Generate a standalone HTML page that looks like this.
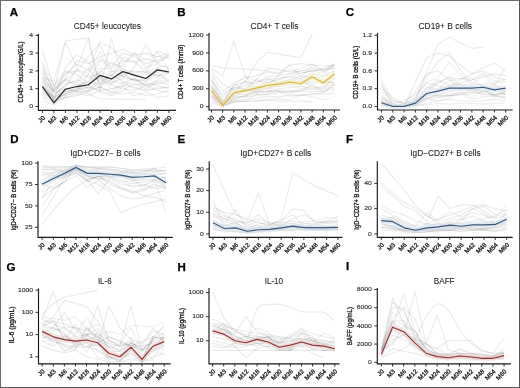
<!DOCTYPE html>
<html><head><meta charset="utf-8"><style>
html,body{margin:0;padding:0;background:#fff;}
body{width:520px;height:388px;overflow:hidden;position:relative;}
svg{position:absolute;left:0;top:0;filter:blur(0.4px);}
text{font-family:"Liberation Sans", sans-serif;}
.ty{font-size:5.9px;fill:#333;stroke:#333;stroke-width:0.15px;}
.tk{font-size:6.2px;fill:#111;stroke:#111;stroke-width:0.26px;}
.yl{font-size:7px;fill:#111;stroke:#111;stroke-width:0.28px;}
.ti{font-size:8.3px;fill:#1a1a1a;stroke:#1a1a1a;stroke-width:0.08px;}
.lt{font-size:11.5px;font-weight:bold;fill:#000;stroke:#000;stroke-width:0.25px;}
</style></head><body>
<svg width="520" height="388" viewBox="0 0 520 388">
<rect x="0" y="0" width="520" height="388" fill="#fff"/>
<polyline points="42.4,78.02 53.9,80.69 65.4,40.82 76.9,39.57 88.4,38.15 99.9,85.14 111.4,79.8 122.9,74.46 134.4,70.9 145.9,72.68 157.4,67.34 168.9,65.56" fill="none" stroke="#000" stroke-opacity="0.082" stroke-width="1.1" stroke-linejoin="round"/>
<polyline points="42.4,50.43 53.9,86.92 65.4,74.46 76.9,63.78 88.4,70.9 99.9,42.42 111.4,47.76 122.9,60.22 134.4,62 145.9,58.44 157.4,62 168.9,56.66" fill="none" stroke="#000" stroke-opacity="0.082" stroke-width="1.1" stroke-linejoin="round"/>
<polyline points="42.4,67.34 53.9,90.48 65.4,42.42 76.9,67.34 88.4,38.15 99.9,90.48 111.4,38.86 122.9,78.02 134.4,67.34 145.9,44.2 157.4,63.78 168.9,54.88" fill="none" stroke="#000" stroke-opacity="0.082" stroke-width="1.1" stroke-linejoin="round"/>
<polyline points="42.4,85.14 53.9,99.38 65.4,90.48 76.9,83.36 88.4,88.7 99.9,79.8 111.4,83.36 122.9,72.68 134.4,81.58 145.9,78.02 157.4,74.46 168.9,79.8" fill="none" stroke="#000" stroke-opacity="0.082" stroke-width="1.1" stroke-linejoin="round"/>
<polyline points="42.4,92.26 53.9,101.16 65.4,94.04 76.9,90.48 88.4,86.92 99.9,90.48 111.4,88.7 122.9,85.14 134.4,86.92 145.9,90.48 157.4,88.7 168.9,86.92" fill="none" stroke="#000" stroke-opacity="0.082" stroke-width="1.1" stroke-linejoin="round"/>
<polyline points="42.4,72.68 53.9,88.7 65.4,79.8 76.9,85.14 88.4,81.58 99.9,60.22 111.4,67.34 122.9,53.1 134.4,56.66 145.9,63.78 157.4,60.22 168.9,54.88" fill="none" stroke="#000" stroke-opacity="0.082" stroke-width="1.1" stroke-linejoin="round"/>
<polyline points="42.4,97.6 53.9,102.94 65.4,95.82 76.9,92.26 88.4,94.04 99.9,98.85 111.4,99.02 122.9,99.38 134.4,99.38 145.9,99.91" fill="none" stroke="#000" stroke-opacity="0.082" stroke-width="1.1" stroke-linejoin="round"/>
<polyline points="42.4,81.58 53.9,94.04 65.4,86.92 76.9,69.12 88.4,78.02 99.9,72.68 111.4,62 122.9,69.12 134.4,72.68 145.9,70.9 157.4,76.24 168.9,70.9" fill="none" stroke="#000" stroke-opacity="0.082" stroke-width="1.1" stroke-linejoin="round"/>
<polyline points="42.4,70.9 53.9,97.6 65.4,83.36 76.9,81.58 88.4,67.34 99.9,83.36 111.4,74.46 122.9,81.58 134.4,85.14 145.9,83.36 157.4,85.14 168.9,88.7" fill="none" stroke="#000" stroke-opacity="0.082" stroke-width="1.1" stroke-linejoin="round"/>
<polyline points="42.4,88.7 53.9,102.94 65.4,92.26 76.9,88.7 88.4,85.14 99.9,76.24 111.4,85.14 122.9,88.7 134.4,90.48 145.9,85.14 157.4,90.48 168.9,92.26" fill="none" stroke="#000" stroke-opacity="0.082" stroke-width="1.1" stroke-linejoin="round"/>
<polyline points="42.4,62 53.9,85.14 65.4,70.9 76.9,74.46 88.4,83.36 99.9,70.9 111.4,76.24 122.9,63.78 134.4,53.1 145.9,67.34 157.4,63.78 168.9,69.12" fill="none" stroke="#000" stroke-opacity="0.082" stroke-width="1.1" stroke-linejoin="round"/>
<polyline points="42.4,101.16 53.9,104.72 65.4,97.6 76.9,95.82 88.4,90.48 99.9,86.92 111.4,92.26 122.9,94.04 134.4,92.26 145.9,95.82 157.4,94.04 168.9,90.48" fill="none" stroke="#000" stroke-opacity="0.082" stroke-width="1.1" stroke-linejoin="round"/>
<polyline points="42.4,76.24 53.9,90.48 65.4,78.02 76.9,60.22 88.4,63.78 99.9,56.66 111.4,53.1 122.9,49.54 134.4,54.88 145.9,53.1 157.4,56.66 168.9,53.1" fill="none" stroke="#000" stroke-opacity="0.082" stroke-width="1.1" stroke-linejoin="round"/>
<polyline points="42.4,83.36 53.9,97.6 65.4,88.7 76.9,90.48 88.4,74.46 99.9,88.7 111.4,70.9 122.9,76.24 134.4,79.8 145.9,81.58 157.4,70.9 168.9,72.68" fill="none" stroke="#000" stroke-opacity="0.082" stroke-width="1.1" stroke-linejoin="round"/>
<polyline points="42.4,90.48 53.9,95.82 65.4,85.14 76.9,79.8 88.4,85.14 99.9,92.26 111.4,95.82 122.9,90.48 134.4,83.36 145.9,88.7 157.4,81.58 168.9,85.14" fill="none" stroke="#000" stroke-opacity="0.082" stroke-width="1.1" stroke-linejoin="round"/>
<polyline points="42.4,65.56 53.9,92.26 65.4,72.68 76.9,70.9 88.4,56.66 99.9,44.2 111.4,70.9 122.9,70.9 134.4,76.24 145.9,74.46 157.4,69.12 168.9,70.9" fill="none" stroke="#000" stroke-opacity="0.082" stroke-width="1.1" stroke-linejoin="round"/>
<polyline points="42.4,79.8 53.9,99.38 65.4,67.34 76.9,54.88 88.4,62 99.9,78.02 111.4,81.58 122.9,83.36 134.4,78.02 145.9,86.92 157.4,83.36 168.9,81.58" fill="none" stroke="#000" stroke-opacity="0.082" stroke-width="1.1" stroke-linejoin="round"/>
<polyline points="42.4,95.82 53.9,101.16 65.4,97.6 76.9,94.04 88.4,95.82 99.9,90.48 111.4,94.04 122.9,86.92 134.4,95.82 145.9,92.26 157.4,97.6 168.9,95.82" fill="none" stroke="#000" stroke-opacity="0.082" stroke-width="1.1" stroke-linejoin="round"/>
<polyline points="42.4,86.67 53.9,97.78 65.4,91.33 76.9,90.52 88.4,87.12 99.9,72.59 111.4,79.41 122.9,68.94 134.4,76.54 145.9,79.18 157.4,71.75 168.9,81.72" fill="none" stroke="#000" stroke-opacity="0.068" stroke-width="1.1" stroke-linejoin="round"/>
<polyline points="42.4,78.22 53.9,92.63 65.4,88.88 76.9,86.31 88.4,81.51 99.9,68.32 111.4,68.53 122.9,60.95 134.4,61.96 145.9,73.12 157.4,56 168.9,58.33" fill="none" stroke="#000" stroke-opacity="0.068" stroke-width="1.1" stroke-linejoin="round"/>
<polyline points="42.4,85.62 53.9,97.88 65.4,89.79 76.9,91.8 88.4,90.76 99.9,82.56 111.4,84.52 122.9,75.46 134.4,80.19 145.9,85.35 157.4,80.8 168.9,80.65" fill="none" stroke="#000" stroke-opacity="0.068" stroke-width="1.1" stroke-linejoin="round"/>
<polyline points="42.4,80.41 53.9,91.49 65.4,79.3 76.9,82.93 88.4,74.18 99.9,51.32 111.4,76.36 122.9,57.37 134.4,60.93 145.9,69.96 157.4,51.32 168.9,55.93" fill="none" stroke="#000" stroke-opacity="0.068" stroke-width="1.1" stroke-linejoin="round"/>
<polyline points="42.4,92.37 53.9,99.72 65.4,94.04 76.9,91.01 88.4,92.15 99.9,86.65 111.4,92.3 122.9,82.56 134.4,88.61 145.9,90.16 157.4,87.53 168.9,87.81" fill="none" stroke="#000" stroke-opacity="0.068" stroke-width="1.1" stroke-linejoin="round"/>
<polyline points="42.4,86.1 53.9,100.41 65.4,94.79 76.9,89.07 88.4,83.75 99.9,77.84 111.4,89 122.9,86.33 134.4,78.61 145.9,85.39 157.4,80.35 168.9,72.77" fill="none" stroke="#000" stroke-opacity="0.068" stroke-width="1.1" stroke-linejoin="round"/>
<polyline points="42.4,77.47 53.9,92.05 65.4,80.28 76.9,70.47 88.4,72.59 99.9,58.6 111.4,63.89 122.9,67.27 134.4,52.48 145.9,60.61 157.4,51.32 168.9,69.96" fill="none" stroke="#000" stroke-opacity="0.068" stroke-width="1.1" stroke-linejoin="round"/>
<polyline points="42.4,88.02 53.9,100.41 65.4,92.79 76.9,87.53 88.4,91.94 99.9,74.12 111.4,82.03 122.9,78.64 134.4,79.64 145.9,81.35 157.4,76.01 168.9,73.02" fill="none" stroke="#000" stroke-opacity="0.068" stroke-width="1.1" stroke-linejoin="round"/>
<polyline points="42.4,86.56 53.9,102.94 65.4,89.23 76.9,86.56 88.4,84.78 99.9,75.35 111.4,78.91 122.9,71.61 134.4,75.17 145.9,78.55 157.4,69.83 168.9,71.97" fill="none" stroke="#262626" stroke-width="1.15" stroke-linejoin="round"/>
<path d="M38.4 34V110.3H176" fill="none" stroke="#1a1a1a" stroke-width="1.15"/>
<path d="M35.4 106.5H38.4" stroke="#1a1a1a" stroke-width="0.9"/>
<text transform="translate(32.9 108.1) scale(1.15 1)" text-anchor="end" class="ty">0</text>
<path d="M35.4 88.7H38.4" stroke="#1a1a1a" stroke-width="0.9"/>
<text transform="translate(32.9 90.3) scale(1.15 1)" text-anchor="end" class="ty">1</text>
<path d="M35.4 70.9H38.4" stroke="#1a1a1a" stroke-width="0.9"/>
<text transform="translate(32.9 72.5) scale(1.15 1)" text-anchor="end" class="ty">2</text>
<path d="M35.4 53.1H38.4" stroke="#1a1a1a" stroke-width="0.9"/>
<text transform="translate(32.9 54.7) scale(1.15 1)" text-anchor="end" class="ty">3</text>
<path d="M35.4 35.3H38.4" stroke="#1a1a1a" stroke-width="0.9"/>
<text transform="translate(32.9 36.9) scale(1.15 1)" text-anchor="end" class="ty">4</text>
<path d="M42.4 110.3V112.9" stroke="#1a1a1a" stroke-width="0.9"/>
<text transform="translate(45.4 118.3) rotate(-45)" text-anchor="end" class="tk">J0</text>
<path d="M53.9 110.3V112.9" stroke="#1a1a1a" stroke-width="0.9"/>
<text transform="translate(56.9 118.3) rotate(-45)" text-anchor="end" class="tk">M3</text>
<path d="M65.4 110.3V112.9" stroke="#1a1a1a" stroke-width="0.9"/>
<text transform="translate(68.4 118.3) rotate(-45)" text-anchor="end" class="tk">M6</text>
<path d="M76.9 110.3V112.9" stroke="#1a1a1a" stroke-width="0.9"/>
<text transform="translate(79.9 118.3) rotate(-45)" text-anchor="end" class="tk">M12</text>
<path d="M88.4 110.3V112.9" stroke="#1a1a1a" stroke-width="0.9"/>
<text transform="translate(91.4 118.3) rotate(-45)" text-anchor="end" class="tk">M18</text>
<path d="M99.9 110.3V112.9" stroke="#1a1a1a" stroke-width="0.9"/>
<text transform="translate(102.9 118.3) rotate(-45)" text-anchor="end" class="tk">M24</text>
<path d="M111.4 110.3V112.9" stroke="#1a1a1a" stroke-width="0.9"/>
<text transform="translate(114.4 118.3) rotate(-45)" text-anchor="end" class="tk">M30</text>
<path d="M122.9 110.3V112.9" stroke="#1a1a1a" stroke-width="0.9"/>
<text transform="translate(125.9 118.3) rotate(-45)" text-anchor="end" class="tk">M36</text>
<path d="M134.4 110.3V112.9" stroke="#1a1a1a" stroke-width="0.9"/>
<text transform="translate(137.4 118.3) rotate(-45)" text-anchor="end" class="tk">M42</text>
<path d="M145.9 110.3V112.9" stroke="#1a1a1a" stroke-width="0.9"/>
<text transform="translate(148.9 118.3) rotate(-45)" text-anchor="end" class="tk">M48</text>
<path d="M157.4 110.3V112.9" stroke="#1a1a1a" stroke-width="0.9"/>
<text transform="translate(160.4 118.3) rotate(-45)" text-anchor="end" class="tk">M54</text>
<path d="M168.9 110.3V112.9" stroke="#1a1a1a" stroke-width="0.9"/>
<text transform="translate(171.9 118.3) rotate(-45)" text-anchor="end" class="tk">M60</text>
<text transform="translate(22.8 72) rotate(-90)" text-anchor="middle" class="yl" textLength="60.8" lengthAdjust="spacingAndGlyphs">CD45+ leucocytes(G/L)</text>
<text x="73.8" y="28.8" class="ti" textLength="67.1" lengthAdjust="spacingAndGlyphs">CD45+ leucocytes</text>
<text x="9.7" y="16" class="lt">A</text>
<polyline points="211.5,68.46 222.68,75.63 233.86,40.98 245.04,75.63 256.22,88.78 267.4,79.81 278.58,78.02 289.76,76.83 300.94,73.24 312.12,70.85 323.3,69.66 334.48,68.46" fill="none" stroke="#000" stroke-opacity="0.082" stroke-width="1.1" stroke-linejoin="round"/>
<polyline points="211.5,65.47 222.68,67.86 233.86,68.46 245.04,69.06 256.22,69.66 267.4,70.85 278.58,73.24 289.76,64.88 300.94,63.68 312.12,64.88 323.3,66.07 334.48,65.47" fill="none" stroke="#000" stroke-opacity="0.082" stroke-width="1.1" stroke-linejoin="round"/>
<polyline points="211.5,79.81 222.68,100.73 233.86,88.78 245.04,82.8 256.22,62.78 267.4,52.21 278.58,54.12 289.76,55.91 300.94,57.53 312.12,34.22" fill="none" stroke="#000" stroke-opacity="0.082" stroke-width="1.1" stroke-linejoin="round"/>
<polyline points="211.5,70.85 222.68,84 233.86,89.97 245.04,85.79 256.22,79.81 267.4,67.86 278.58,69.66 289.76,72.05 300.94,68.46 312.12,63.68 323.3,70.85 334.48,66.07" fill="none" stroke="#000" stroke-opacity="0.082" stroke-width="1.1" stroke-linejoin="round"/>
<polyline points="211.5,88.78 222.68,103.71 233.86,94.75 245.04,91.76 256.22,88.78 267.4,85.19 278.58,86.98 289.76,82.8 300.94,81.01 312.12,81.61 323.3,79.81 334.48,78.02" fill="none" stroke="#000" stroke-opacity="0.082" stroke-width="1.1" stroke-linejoin="round"/>
<polyline points="211.5,94.75 222.68,105.51 233.86,97.74 245.04,95.95 256.22,93.56 267.4,91.76 278.58,90.57 289.76,91.17 300.94,88.78 312.12,89.97 323.3,88.18 334.48,87.58" fill="none" stroke="#000" stroke-opacity="0.082" stroke-width="1.1" stroke-linejoin="round"/>
<polyline points="211.5,85.79 222.68,101.92 233.86,91.76 245.04,88.78 256.22,91.76 267.4,82.8 278.58,79.81 289.76,76.83 300.94,78.62 312.12,73.84 323.3,75.63 334.48,70.85" fill="none" stroke="#000" stroke-opacity="0.082" stroke-width="1.1" stroke-linejoin="round"/>
<polyline points="211.5,97.74 222.68,106.1 233.86,100.73 245.04,99.53 256.22,98.34 267.4,95.95 278.58,97.14 289.76,94.75 300.94,95.35 312.12,93.56 323.3,94.15 334.48,92.96" fill="none" stroke="#000" stroke-opacity="0.082" stroke-width="1.1" stroke-linejoin="round"/>
<polyline points="211.5,76.83 222.68,97.74 233.86,85.79 245.04,81.61 256.22,84 267.4,76.83 278.58,75.63 289.76,73.24 300.94,70.85 312.12,67.86 323.3,72.05 334.48,67.27" fill="none" stroke="#000" stroke-opacity="0.082" stroke-width="1.1" stroke-linejoin="round"/>
<polyline points="211.5,91.76 222.68,104.91 233.86,95.95 245.04,91.17 256.22,86.39 267.4,88.78 278.58,84 289.76,85.79 300.94,82.8 312.12,84 323.3,81.61 334.48,82.8" fill="none" stroke="#000" stroke-opacity="0.082" stroke-width="1.1" stroke-linejoin="round"/>
<polyline points="211.5,100.73 222.68,106.4 233.86,101.92 245.04,101.32 256.22,100.73 267.4,100.13 278.58,101.32 289.76,101.02 300.94,101.32 312.12,101.92" fill="none" stroke="#000" stroke-opacity="0.082" stroke-width="1.1" stroke-linejoin="round"/>
<polyline points="211.5,81.61 222.68,94.75 233.86,87.58 245.04,88.78 256.22,81.61 267.4,78.62 278.58,82.8 289.76,79.81 300.94,75.63 312.12,78.02 323.3,76.83 334.48,73.24" fill="none" stroke="#000" stroke-opacity="0.082" stroke-width="1.1" stroke-linejoin="round"/>
<polyline points="211.5,73.84 222.68,91.76 233.86,82.8 245.04,78.02 256.22,75.63 267.4,72.05 278.58,73.84 289.76,69.66 300.94,73.24 312.12,70.85 323.3,68.46 334.48,64.88" fill="none" stroke="#000" stroke-opacity="0.082" stroke-width="1.1" stroke-linejoin="round"/>
<polyline points="211.5,87.58 222.68,103.12 233.86,93.56 245.04,94.75 256.22,89.97 267.4,92.36 278.58,88.78 289.76,87.58 300.94,86.39 312.12,88.78 323.3,86.98 334.48,84" fill="none" stroke="#000" stroke-opacity="0.082" stroke-width="1.1" stroke-linejoin="round"/>
<polyline points="211.5,95.95 222.68,104.31 233.86,98.93 245.04,97.14 256.22,95.35 267.4,94.15 278.58,92.96 289.76,92.36 300.94,91.17 312.12,91.76 323.3,91.17 334.48,89.37" fill="none" stroke="#000" stroke-opacity="0.082" stroke-width="1.1" stroke-linejoin="round"/>
<polyline points="211.5,95.76 222.68,104.51 233.86,96.26 245.04,96.73 256.22,90.08 267.4,85.59 278.58,91.36 289.76,92.8 300.94,90.07 312.12,85.17 323.3,90.15 334.48,74.27" fill="none" stroke="#000" stroke-opacity="0.068" stroke-width="1.1" stroke-linejoin="round"/>
<polyline points="211.5,93.72 222.68,105.53 233.86,99.18 245.04,95.25 256.22,92.08 267.4,90.83 278.58,91.46 289.76,90.71 300.94,91.76 312.12,85.59 323.3,92.31 334.48,84.74" fill="none" stroke="#000" stroke-opacity="0.068" stroke-width="1.1" stroke-linejoin="round"/>
<polyline points="211.5,85.98 222.68,103.1 233.86,86.44 245.04,75.72 256.22,81.12 267.4,81.5 278.58,79.57 289.76,74.85 300.94,70.89 312.12,70.56 323.3,73.63 334.48,63.68" fill="none" stroke="#000" stroke-opacity="0.068" stroke-width="1.1" stroke-linejoin="round"/>
<polyline points="211.5,102.67 222.68,105.91 233.86,101.93 245.04,101.4 256.22,101.34 267.4,99.07 278.58,99.16 289.76,99.69 300.94,94.91 312.12,96.59 323.3,100.02 334.48,96.5" fill="none" stroke="#000" stroke-opacity="0.068" stroke-width="1.1" stroke-linejoin="round"/>
<polyline points="211.5,92.41 222.68,105.45 233.86,95.24 245.04,89 256.22,93.45 267.4,87.79 278.58,82.01 289.76,80.24 300.94,78.7 312.12,87.49 323.3,86.78 334.48,78.87" fill="none" stroke="#000" stroke-opacity="0.068" stroke-width="1.1" stroke-linejoin="round"/>
<polyline points="211.5,80.33 222.68,104.85 233.86,83.69 245.04,90.83 256.22,78.59 267.4,85.87 278.58,75.73 289.76,65.22 300.94,77.14 312.12,65.61 323.3,69.96 334.48,63.68" fill="none" stroke="#000" stroke-opacity="0.068" stroke-width="1.1" stroke-linejoin="round"/>
<polyline points="211.5,85.79 222.68,103.87 233.86,94.03 245.04,80.05 256.22,92.55 267.4,82.23 278.58,86.12 289.76,82.35 300.94,81.25 312.12,76.69 323.3,80.86 334.48,83.35" fill="none" stroke="#000" stroke-opacity="0.068" stroke-width="1.1" stroke-linejoin="round"/>
<polyline points="211.5,97.52 222.68,105.7 233.86,100.93 245.04,100.65 256.22,94.6 267.4,94.21 278.58,91.33 289.76,96.33 300.94,95.04 312.12,94.64 323.3,92.72 334.48,83.72" fill="none" stroke="#000" stroke-opacity="0.068" stroke-width="1.1" stroke-linejoin="round"/>
<polygon points="211.5,87.69 222.68,102.51 233.86,89.72 245.04,87.69 256.22,85.18 267.4,82.49 278.58,81.11 289.76,79.02 300.94,80.7 312.12,73.83 323.3,80.04 334.48,70.72 334.48,76.72 323.3,86.04 312.12,79.83 300.94,86.7 289.76,85.02 278.58,87.11 267.4,88.49 256.22,91.18 245.04,93.69 233.86,95.72 222.68,108.51 211.5,93.69" fill="#f6efcf" opacity="0.6"/>
<polyline points="211.5,90.69 222.68,105.51 233.86,92.72 245.04,90.69 256.22,88.18 267.4,85.49 278.58,84.11 289.76,82.02 300.94,83.7 312.12,76.83 323.3,83.04 334.48,73.72" fill="none" stroke="#dfb32e" stroke-width="1.15" stroke-linejoin="round"/>
<path d="M209 33V110H340" fill="none" stroke="#1a1a1a" stroke-width="1.15"/>
<path d="M206 106.7H209" stroke="#1a1a1a" stroke-width="0.9"/>
<text transform="translate(203.5 108.3) scale(1.15 1)" text-anchor="end" class="ty">0</text>
<path d="M206 88.78H209" stroke="#1a1a1a" stroke-width="0.9"/>
<text transform="translate(203.5 90.38) scale(1.15 1)" text-anchor="end" class="ty">300</text>
<path d="M206 70.85H209" stroke="#1a1a1a" stroke-width="0.9"/>
<text transform="translate(203.5 72.45) scale(1.15 1)" text-anchor="end" class="ty">600</text>
<path d="M206 52.92H209" stroke="#1a1a1a" stroke-width="0.9"/>
<text transform="translate(203.5 54.52) scale(1.15 1)" text-anchor="end" class="ty">900</text>
<path d="M206 35H209" stroke="#1a1a1a" stroke-width="0.9"/>
<text transform="translate(203.5 36.6) scale(1.15 1)" text-anchor="end" class="ty">1200</text>
<path d="M211.5 110V112.6" stroke="#1a1a1a" stroke-width="0.9"/>
<text transform="translate(214.5 118) rotate(-45)" text-anchor="end" class="tk">J0</text>
<path d="M222.68 110V112.6" stroke="#1a1a1a" stroke-width="0.9"/>
<text transform="translate(225.68 118) rotate(-45)" text-anchor="end" class="tk">M3</text>
<path d="M233.86 110V112.6" stroke="#1a1a1a" stroke-width="0.9"/>
<text transform="translate(236.86 118) rotate(-45)" text-anchor="end" class="tk">M6</text>
<path d="M245.04 110V112.6" stroke="#1a1a1a" stroke-width="0.9"/>
<text transform="translate(248.04 118) rotate(-45)" text-anchor="end" class="tk">M12</text>
<path d="M256.22 110V112.6" stroke="#1a1a1a" stroke-width="0.9"/>
<text transform="translate(259.22 118) rotate(-45)" text-anchor="end" class="tk">M18</text>
<path d="M267.4 110V112.6" stroke="#1a1a1a" stroke-width="0.9"/>
<text transform="translate(270.4 118) rotate(-45)" text-anchor="end" class="tk">M24</text>
<path d="M278.58 110V112.6" stroke="#1a1a1a" stroke-width="0.9"/>
<text transform="translate(281.58 118) rotate(-45)" text-anchor="end" class="tk">M30</text>
<path d="M289.76 110V112.6" stroke="#1a1a1a" stroke-width="0.9"/>
<text transform="translate(292.76 118) rotate(-45)" text-anchor="end" class="tk">M36</text>
<path d="M300.94 110V112.6" stroke="#1a1a1a" stroke-width="0.9"/>
<text transform="translate(303.94 118) rotate(-45)" text-anchor="end" class="tk">M42</text>
<path d="M312.12 110V112.6" stroke="#1a1a1a" stroke-width="0.9"/>
<text transform="translate(315.12 118) rotate(-45)" text-anchor="end" class="tk">M48</text>
<path d="M323.3 110V112.6" stroke="#1a1a1a" stroke-width="0.9"/>
<text transform="translate(326.3 118) rotate(-45)" text-anchor="end" class="tk">M54</text>
<path d="M334.48 110V112.6" stroke="#1a1a1a" stroke-width="0.9"/>
<text transform="translate(337.48 118) rotate(-45)" text-anchor="end" class="tk">M60</text>
<text transform="translate(183 72) rotate(-90)" text-anchor="middle" class="yl" textLength="54.6" lengthAdjust="spacingAndGlyphs">CD4+ T cells (/mm3)</text>
<text x="250.6" y="28.8" class="ti" textLength="47.8" lengthAdjust="spacingAndGlyphs">CD4+ T cells</text>
<text x="177.3" y="16" class="lt">B</text>
<polyline points="381.5,79.8 392.79,100.57 404.08,103.53 415.37,100.57 426.66,72.09 437.95,44.2 449.24,37.08 460.53,43.01 471.82,48.35 483.11,47.17" fill="none" stroke="#000" stroke-opacity="0.082" stroke-width="1.1" stroke-linejoin="round"/>
<polyline points="381.5,85.73 392.79,103.53 404.08,106.5 415.37,82.17 426.66,57.85 437.95,53.1 449.24,56.07 460.53,64.97 471.82,73.87 483.11,70.9 494.4,76.83 505.69,79.8" fill="none" stroke="#000" stroke-opacity="0.082" stroke-width="1.1" stroke-linejoin="round"/>
<polyline points="381.5,88.7 392.79,97.6 404.08,103.53 415.37,97.6 426.66,76.83 437.95,62 449.24,53.1 460.53,70.9 471.82,82.77 483.11,85.73 494.4,88.7 505.69,91.67" fill="none" stroke="#000" stroke-opacity="0.082" stroke-width="1.1" stroke-linejoin="round"/>
<polyline points="381.5,94.63 392.79,106.5 404.08,106.5 415.37,100.57 426.66,88.7 437.95,79.8 449.24,85.73 460.53,79.8 471.82,73.87 483.11,67.93 494.4,63.19 505.69,70.9" fill="none" stroke="#000" stroke-opacity="0.082" stroke-width="1.1" stroke-linejoin="round"/>
<polyline points="381.5,97.6 392.79,103.53 404.08,100.57 415.37,94.63 426.66,82.77 437.95,85.73 449.24,88.7 460.53,82.77 471.82,79.8 483.11,76.83 494.4,73.87 505.69,75.65" fill="none" stroke="#000" stroke-opacity="0.082" stroke-width="1.1" stroke-linejoin="round"/>
<polyline points="381.5,100.57 392.79,106.5 404.08,106.5 415.37,103.53 426.66,97.6 437.95,94.63 449.24,91.67 460.53,88.7 471.82,89.89 483.11,88.7 494.4,85.73 505.69,88.7" fill="none" stroke="#000" stroke-opacity="0.082" stroke-width="1.1" stroke-linejoin="round"/>
<polyline points="381.5,103.53 392.79,106.5 404.08,106.5 415.37,106.5 426.66,103.53 437.95,100.57 449.24,99.38 460.53,100.57 471.82,101.75 483.11,100.57 494.4,99.38 505.69,100.57" fill="none" stroke="#000" stroke-opacity="0.082" stroke-width="1.1" stroke-linejoin="round"/>
<polyline points="381.5,91.67 392.79,100.57 404.08,103.53 415.37,91.67 426.66,73.87 437.95,70.9 449.24,79.8 460.53,88.7 471.82,91.67 483.11,94.63 494.4,95.82 505.69,97.6" fill="none" stroke="#000" stroke-opacity="0.082" stroke-width="1.1" stroke-linejoin="round"/>
<polyline points="381.5,82.77 392.79,106.5 404.08,106.5 415.37,100.57 426.66,94.63 437.95,89.89 449.24,85.73 460.53,83.95 471.82,85.73 483.11,83.95 494.4,82.77 505.69,81.58" fill="none" stroke="#000" stroke-opacity="0.082" stroke-width="1.1" stroke-linejoin="round"/>
<polyline points="381.5,101.75 392.79,105.31 404.08,106.5 415.37,104.72 426.66,100.57 437.95,97.6 449.24,95.82 460.53,94.63 471.82,93.45 483.11,91.67 494.4,94.63 505.69,93.45" fill="none" stroke="#000" stroke-opacity="0.082" stroke-width="1.1" stroke-linejoin="round"/>
<polyline points="381.5,99.38 392.79,106.5 404.08,105.31 415.37,103.53 426.66,91.67 437.95,82.77 449.24,76.83 460.53,85.73 471.82,88.7 483.11,91.67 494.4,89.89 505.69,94.63" fill="none" stroke="#000" stroke-opacity="0.082" stroke-width="1.1" stroke-linejoin="round"/>
<polyline points="381.5,105.31 392.79,106.5 404.08,106.5 415.37,105.31 426.66,104.72 437.95,103.53 449.24,104.13 460.53,102.94 471.82,103.53 483.11,104.13 494.4,103.53 505.69,102.94" fill="none" stroke="#000" stroke-opacity="0.082" stroke-width="1.1" stroke-linejoin="round"/>
<polyline points="381.5,103 392.79,105.49 404.08,105.67 415.37,104.9 426.66,94.4 437.95,95.88 449.24,95.11 460.53,92.56 471.82,92.5 483.11,88.28 494.4,97.01 505.69,90.3" fill="none" stroke="#000" stroke-opacity="0.068" stroke-width="1.1" stroke-linejoin="round"/>
<polyline points="381.5,97.6 392.79,104.42 404.08,104.66 415.37,98.96 426.66,82.29 437.95,77.84 449.24,62.18 460.53,74.88 471.82,85.44 483.11,74.16 494.4,85.73 505.69,67.22" fill="none" stroke="#000" stroke-opacity="0.068" stroke-width="1.1" stroke-linejoin="round"/>
<polyline points="381.5,102.82 392.79,105.14 404.08,104.9 415.37,102.58 426.66,87.16 437.95,89.17 449.24,80.81 460.53,78.38 471.82,77.66 483.11,87.34 494.4,84.01 505.69,92.14" fill="none" stroke="#000" stroke-opacity="0.068" stroke-width="1.1" stroke-linejoin="round"/>
<polyline points="381.5,104.9 392.79,105.55 404.08,105.91 415.37,104.3 426.66,98.37 437.95,96.53 449.24,95.88 460.53,93.98 471.82,89.41 483.11,93.86 494.4,94.51 505.69,91.9" fill="none" stroke="#000" stroke-opacity="0.068" stroke-width="1.1" stroke-linejoin="round"/>
<polyline points="381.5,103.83 392.79,105.49 404.08,105.14 415.37,104.25 426.66,95.82 437.95,89.06 449.24,86.56 460.53,89.47 471.82,86.56 483.11,88.11 494.4,94.4 505.69,94.1" fill="none" stroke="#000" stroke-opacity="0.068" stroke-width="1.1" stroke-linejoin="round"/>
<polyline points="381.5,103.06 392.79,105.67 404.08,105.73 415.37,104.25 426.66,99.08 437.95,94.81 449.24,95.23 460.53,91.19 471.82,97.6 483.11,90.54 494.4,95.17 505.69,96.83" fill="none" stroke="#000" stroke-opacity="0.068" stroke-width="1.1" stroke-linejoin="round"/>
<polyline points="381.5,101.87 392.79,105.49 404.08,105.19 415.37,101.69 426.66,90.6 437.95,82.41 449.24,77.96 460.53,78.44 471.82,80.27 483.11,72.86 494.4,81.16 505.69,79.62" fill="none" stroke="#000" stroke-opacity="0.068" stroke-width="1.1" stroke-linejoin="round"/>
<polyline points="381.5,104.6 392.79,105.85 404.08,106.03 415.37,105.14 426.66,98.13 437.95,101.81 449.24,97.72 460.53,93.51 471.82,99.85 483.11,96.89 494.4,96 505.69,98.73" fill="none" stroke="#000" stroke-opacity="0.068" stroke-width="1.1" stroke-linejoin="round"/>
<polygon points="381.5,99.82 392.79,103.5 404.08,103.5 415.37,100.12 426.66,90.45 437.95,88.07 449.24,85.11 460.53,85.11 471.82,85.11 483.11,84.22 494.4,86.89 505.69,85.11 505.69,91.11 494.4,92.89 483.11,90.22 471.82,91.11 460.53,91.11 449.24,91.11 437.95,94.07 426.66,96.45 415.37,106.12 404.08,109.5 392.79,109.5 381.5,105.82" fill="#dbe7f3" opacity="0.6"/>
<polyline points="381.5,102.82 392.79,106.5 404.08,106.5 415.37,103.12 426.66,93.45 437.95,91.07 449.24,88.11 460.53,88.11 471.82,88.11 483.11,87.22 494.4,89.89 505.69,88.11" fill="none" stroke="#3b587c" stroke-width="1.15" stroke-linejoin="round"/>
<path d="M377.5 33V110H512.7" fill="none" stroke="#1a1a1a" stroke-width="1.15"/>
<path d="M374.5 106.5H377.5" stroke="#1a1a1a" stroke-width="0.9"/>
<text transform="translate(372 108.1) scale(1.15 1)" text-anchor="end" class="ty">0.0</text>
<path d="M374.5 88.7H377.5" stroke="#1a1a1a" stroke-width="0.9"/>
<text transform="translate(372 90.3) scale(1.15 1)" text-anchor="end" class="ty">0.3</text>
<path d="M374.5 70.9H377.5" stroke="#1a1a1a" stroke-width="0.9"/>
<text transform="translate(372 72.5) scale(1.15 1)" text-anchor="end" class="ty">0.6</text>
<path d="M374.5 53.1H377.5" stroke="#1a1a1a" stroke-width="0.9"/>
<text transform="translate(372 54.7) scale(1.15 1)" text-anchor="end" class="ty">0.9</text>
<path d="M374.5 35.3H377.5" stroke="#1a1a1a" stroke-width="0.9"/>
<text transform="translate(372 36.9) scale(1.15 1)" text-anchor="end" class="ty">1.2</text>
<path d="M381.5 110V112.6" stroke="#1a1a1a" stroke-width="0.9"/>
<text transform="translate(384.5 118) rotate(-45)" text-anchor="end" class="tk">J0</text>
<path d="M392.79 110V112.6" stroke="#1a1a1a" stroke-width="0.9"/>
<text transform="translate(395.79 118) rotate(-45)" text-anchor="end" class="tk">M3</text>
<path d="M404.08 110V112.6" stroke="#1a1a1a" stroke-width="0.9"/>
<text transform="translate(407.08 118) rotate(-45)" text-anchor="end" class="tk">M6</text>
<path d="M415.37 110V112.6" stroke="#1a1a1a" stroke-width="0.9"/>
<text transform="translate(418.37 118) rotate(-45)" text-anchor="end" class="tk">M12</text>
<path d="M426.66 110V112.6" stroke="#1a1a1a" stroke-width="0.9"/>
<text transform="translate(429.66 118) rotate(-45)" text-anchor="end" class="tk">M18</text>
<path d="M437.95 110V112.6" stroke="#1a1a1a" stroke-width="0.9"/>
<text transform="translate(440.95 118) rotate(-45)" text-anchor="end" class="tk">M24</text>
<path d="M449.24 110V112.6" stroke="#1a1a1a" stroke-width="0.9"/>
<text transform="translate(452.24 118) rotate(-45)" text-anchor="end" class="tk">M30</text>
<path d="M460.53 110V112.6" stroke="#1a1a1a" stroke-width="0.9"/>
<text transform="translate(463.53 118) rotate(-45)" text-anchor="end" class="tk">M36</text>
<path d="M471.82 110V112.6" stroke="#1a1a1a" stroke-width="0.9"/>
<text transform="translate(474.82 118) rotate(-45)" text-anchor="end" class="tk">M42</text>
<path d="M483.11 110V112.6" stroke="#1a1a1a" stroke-width="0.9"/>
<text transform="translate(486.11 118) rotate(-45)" text-anchor="end" class="tk">M48</text>
<path d="M494.4 110V112.6" stroke="#1a1a1a" stroke-width="0.9"/>
<text transform="translate(497.4 118) rotate(-45)" text-anchor="end" class="tk">M54</text>
<path d="M505.69 110V112.6" stroke="#1a1a1a" stroke-width="0.9"/>
<text transform="translate(508.69 118) rotate(-45)" text-anchor="end" class="tk">M60</text>
<text transform="translate(357.6 72.3) rotate(-90)" text-anchor="middle" class="yl" textLength="53.1" lengthAdjust="spacingAndGlyphs">CD19+ B cells (G/L)</text>
<text x="418.5" y="28.8" class="ti" textLength="53.5" lengthAdjust="spacingAndGlyphs">CD19+ B cells</text>
<text x="345.7" y="16" class="lt">C</text>
<polyline points="42.1,214.46 53.36,197.34 64.62,176.8 75.88,173.37 87.14,180.22 98.4,184.5 109.66,191.35 120.92,212.75 132.18,207.61 143.44,204.19 154.7,201.62 165.96,199.05" fill="none" stroke="#000" stroke-opacity="0.082" stroke-width="1.1" stroke-linejoin="round"/>
<polyline points="42.1,224.73 53.36,210.18 64.62,197.34 75.88,187.07 87.14,180.22 98.4,175.94 109.66,181.93 120.92,188.78 132.18,190.49 143.44,195.63 154.7,197.34 165.96,201.62" fill="none" stroke="#000" stroke-opacity="0.082" stroke-width="1.1" stroke-linejoin="round"/>
<polyline points="42.1,168.24 53.36,167.38 64.62,166.52 75.88,167.38 87.14,169.95 98.4,169.09 109.66,169.95 120.92,171.66 132.18,173.37 143.44,171.66 154.7,169.95 165.96,170.8" fill="none" stroke="#000" stroke-opacity="0.082" stroke-width="1.1" stroke-linejoin="round"/>
<polyline points="42.1,169.95 53.36,169.09 64.62,169.09 75.88,166.52 87.14,168.24 98.4,167.38 109.66,169.09 120.92,169.95 132.18,170.8 143.44,169.95 154.7,171.66 165.96,169.95" fill="none" stroke="#000" stroke-opacity="0.082" stroke-width="1.1" stroke-linejoin="round"/>
<polyline points="42.1,165.67 53.36,166.52 64.62,167.38 75.88,165.67 87.14,166.52 98.4,166.52 109.66,167.38 120.92,168.24 132.18,169.95 143.44,169.09 154.7,168.24 165.96,167.38" fill="none" stroke="#000" stroke-opacity="0.082" stroke-width="1.1" stroke-linejoin="round"/>
<polyline points="42.1,171.66 53.36,173.37 64.62,171.66 75.88,169.09 87.14,175.94 98.4,178.51 109.66,173.37 120.92,176.8 132.18,180.22 143.44,177.65 154.7,175.94 165.96,178.51" fill="none" stroke="#000" stroke-opacity="0.082" stroke-width="1.1" stroke-linejoin="round"/>
<polyline points="42.1,184.5 53.36,180.22 64.62,175.08 75.88,171.66 87.14,180.22 98.4,193.92 109.66,178.51 120.92,181.93 132.18,187.07 143.44,184.5 154.7,188.78 165.96,187.07" fill="none" stroke="#000" stroke-opacity="0.082" stroke-width="1.1" stroke-linejoin="round"/>
<polyline points="42.1,173.37 53.36,175.94 64.62,178.51 75.88,171.66 87.14,181.93 98.4,175.94 109.66,184.5 120.92,188.78 132.18,193.06 143.44,190.49 154.7,187.07 165.96,184.5" fill="none" stroke="#000" stroke-opacity="0.082" stroke-width="1.1" stroke-linejoin="round"/>
<polyline points="42.1,197.34 53.36,188.78 64.62,181.93 75.88,175.94 87.14,187.07 98.4,180.22 109.66,188.78 120.92,195.63 132.18,199.05 143.44,197.34 154.7,193.06 165.96,190.49" fill="none" stroke="#000" stroke-opacity="0.082" stroke-width="1.1" stroke-linejoin="round"/>
<polyline points="42.1,175.94 53.36,171.66 64.62,169.95 75.88,168.24 87.14,171.66 98.4,173.37 109.66,175.94 120.92,180.22 132.18,183.64 143.44,181.93 154.7,180.22 165.96,176.8" fill="none" stroke="#000" stroke-opacity="0.082" stroke-width="1.1" stroke-linejoin="round"/>
<polyline points="42.1,166.52 53.36,168.24 64.62,171.66 75.88,169.95 87.14,173.37 98.4,171.66 109.66,174.23 120.92,175.08 132.18,176.8 143.44,173.37 154.7,175.08 165.96,173.37" fill="none" stroke="#000" stroke-opacity="0.082" stroke-width="1.1" stroke-linejoin="round"/>
<polyline points="42.1,180.22 53.36,175.94 64.62,173.37 75.88,169.95 87.14,175.94 98.4,178.51 109.66,180.22 120.92,187.07 132.18,192.2 143.44,188.78 154.7,184.5 165.96,188.78" fill="none" stroke="#000" stroke-opacity="0.082" stroke-width="1.1" stroke-linejoin="round"/>
<polyline points="42.1,198.32 53.36,179.37 64.62,176.4 75.88,169.2 87.14,179.82 98.4,176.58 109.66,177.13 120.92,175.41 132.18,180.4 143.44,185.76 154.7,180.54 165.96,184.16" fill="none" stroke="#000" stroke-opacity="0.068" stroke-width="1.1" stroke-linejoin="round"/>
<polyline points="42.1,190.25 53.36,176.55 64.62,171.01 75.88,164.57 87.14,170.98 98.4,170.7 109.66,174.23 120.92,171.86 132.18,172.33 143.44,173.35 154.7,168.28 165.96,179.84" fill="none" stroke="#000" stroke-opacity="0.068" stroke-width="1.1" stroke-linejoin="round"/>
<polyline points="42.1,184.05 53.36,188.35 64.62,182.1 75.88,166.65 87.14,173.33 98.4,176.1 109.66,176.81 120.92,175.86 132.18,176.28 143.44,190.48 154.7,182.68 165.96,180.28" fill="none" stroke="#000" stroke-opacity="0.068" stroke-width="1.1" stroke-linejoin="round"/>
<polyline points="42.1,179.69 53.36,173.17 64.62,171.37 75.88,165.77 87.14,167.32 98.4,168.7 109.66,166.41 120.92,168.17 132.18,170.29 143.44,171.07 154.7,168.56 165.96,172.84" fill="none" stroke="#000" stroke-opacity="0.068" stroke-width="1.1" stroke-linejoin="round"/>
<polyline points="42.1,192.44 53.36,185.83 64.62,176.71 75.88,168.06 87.14,178.84 98.4,176.18 109.66,174.48 120.92,175.99 132.18,181.08 143.44,179.86 154.7,179.89 165.96,187.86" fill="none" stroke="#000" stroke-opacity="0.068" stroke-width="1.1" stroke-linejoin="round"/>
<polyline points="42.1,185.52 53.36,175.38 64.62,175.56 75.88,169.18 87.14,175.6 98.4,173.8 109.66,176.69 120.92,173.38 132.18,172.82 143.44,178.28 154.7,174.21 165.96,188.97" fill="none" stroke="#000" stroke-opacity="0.068" stroke-width="1.1" stroke-linejoin="round"/>
<polyline points="42.1,169.5 53.36,170.01 64.62,171.96 75.88,165.36 87.14,167.34 98.4,168.04 109.66,170.47 120.92,170.99 132.18,171.79 143.44,174.64 154.7,172.01 165.96,174.49" fill="none" stroke="#000" stroke-opacity="0.068" stroke-width="1.1" stroke-linejoin="round"/>
<polyline points="42.1,206.36 53.36,189.57 64.62,180.98 75.88,167.5 87.14,176.44 98.4,179.71 109.66,177.03 120.92,184.2 132.18,185.46 143.44,186.26 154.7,179.51 165.96,213.25" fill="none" stroke="#000" stroke-opacity="0.068" stroke-width="1.1" stroke-linejoin="round"/>
<polygon points="42.1,181.33 53.36,175.51 64.62,170.37 75.88,164.38 87.14,170.37 98.4,170.37 109.66,171.23 120.92,172.08 132.18,174.4 143.44,173.8 154.7,172.94 165.96,179.79 165.96,185.79 154.7,178.94 143.44,179.8 132.18,180.4 120.92,178.08 109.66,177.23 98.4,176.37 87.14,176.37 75.88,170.38 64.62,176.37 53.36,181.51 42.1,187.33" fill="#dbe7f3" opacity="0.6"/>
<polyline points="42.1,184.33 53.36,178.51 64.62,173.37 75.88,167.38 87.14,173.37 98.4,173.37 109.66,174.23 120.92,175.08 132.18,177.4 143.44,176.8 154.7,175.94 165.96,182.79" fill="none" stroke="#3b587c" stroke-width="1.15" stroke-linejoin="round"/>
<path d="M38 161.3V237.3H172.9" fill="none" stroke="#1a1a1a" stroke-width="1.15"/>
<path d="M35 227.3H38" stroke="#1a1a1a" stroke-width="0.9"/>
<text transform="translate(32.5 228.9) scale(1.15 1)" text-anchor="end" class="ty">25</text>
<path d="M35 205.9H38" stroke="#1a1a1a" stroke-width="0.9"/>
<text transform="translate(32.5 207.5) scale(1.15 1)" text-anchor="end" class="ty">50</text>
<path d="M35 184.5H38" stroke="#1a1a1a" stroke-width="0.9"/>
<text transform="translate(32.5 186.1) scale(1.15 1)" text-anchor="end" class="ty">75</text>
<path d="M35 163.1H38" stroke="#1a1a1a" stroke-width="0.9"/>
<text transform="translate(32.5 164.7) scale(1.15 1)" text-anchor="end" class="ty">100</text>
<path d="M42.1 237.3V239.9" stroke="#1a1a1a" stroke-width="0.9"/>
<text transform="translate(45.1 245.3) rotate(-45)" text-anchor="end" class="tk">J0</text>
<path d="M53.36 237.3V239.9" stroke="#1a1a1a" stroke-width="0.9"/>
<text transform="translate(56.36 245.3) rotate(-45)" text-anchor="end" class="tk">M3</text>
<path d="M64.62 237.3V239.9" stroke="#1a1a1a" stroke-width="0.9"/>
<text transform="translate(67.62 245.3) rotate(-45)" text-anchor="end" class="tk">M6</text>
<path d="M75.88 237.3V239.9" stroke="#1a1a1a" stroke-width="0.9"/>
<text transform="translate(78.88 245.3) rotate(-45)" text-anchor="end" class="tk">M12</text>
<path d="M87.14 237.3V239.9" stroke="#1a1a1a" stroke-width="0.9"/>
<text transform="translate(90.14 245.3) rotate(-45)" text-anchor="end" class="tk">M18</text>
<path d="M98.4 237.3V239.9" stroke="#1a1a1a" stroke-width="0.9"/>
<text transform="translate(101.4 245.3) rotate(-45)" text-anchor="end" class="tk">M24</text>
<path d="M109.66 237.3V239.9" stroke="#1a1a1a" stroke-width="0.9"/>
<text transform="translate(112.66 245.3) rotate(-45)" text-anchor="end" class="tk">M30</text>
<path d="M120.92 237.3V239.9" stroke="#1a1a1a" stroke-width="0.9"/>
<text transform="translate(123.92 245.3) rotate(-45)" text-anchor="end" class="tk">M36</text>
<path d="M132.18 237.3V239.9" stroke="#1a1a1a" stroke-width="0.9"/>
<text transform="translate(135.18 245.3) rotate(-45)" text-anchor="end" class="tk">M42</text>
<path d="M143.44 237.3V239.9" stroke="#1a1a1a" stroke-width="0.9"/>
<text transform="translate(146.44 245.3) rotate(-45)" text-anchor="end" class="tk">M48</text>
<path d="M154.7 237.3V239.9" stroke="#1a1a1a" stroke-width="0.9"/>
<text transform="translate(157.7 245.3) rotate(-45)" text-anchor="end" class="tk">M54</text>
<path d="M165.96 237.3V239.9" stroke="#1a1a1a" stroke-width="0.9"/>
<text transform="translate(168.96 245.3) rotate(-45)" text-anchor="end" class="tk">M60</text>
<text transform="translate(16.4 200) rotate(-90)" text-anchor="middle" class="yl" textLength="60.6" lengthAdjust="spacingAndGlyphs">IgD+CD27− B cells (%)</text>
<text x="70.3" y="155.7" class="ti" textLength="70.3" lengthAdjust="spacingAndGlyphs">IgD+CD27− B cells</text>
<text x="10.2" y="143.1" class="lt">D</text>
<polyline points="213,164.67 224.36,190.63 235.72,214.43 247.08,218.76 258.44,223.08 269.8,225.25 281.16,225.25 292.52,227.41 303.88,227.41 315.24,227.41 326.6,225.25 337.96,227.41" fill="none" stroke="#000" stroke-opacity="0.082" stroke-width="1.1" stroke-linejoin="round"/>
<polyline points="213,207.94 224.36,212.27 235.72,214.43 247.08,220.92 258.44,192.8 269.8,225.25 281.16,218.76 292.52,173.33 303.88,179.82 315.24,186.31 326.6,190.63 337.96,196.04" fill="none" stroke="#000" stroke-opacity="0.082" stroke-width="1.1" stroke-linejoin="round"/>
<polyline points="213,205.78 224.36,214.43 235.72,220.92 247.08,223.08 258.44,214.43 269.8,225.25 281.16,220.92 292.52,209.02 303.88,210.1 315.24,223.08 326.6,220.92 337.96,216.59" fill="none" stroke="#000" stroke-opacity="0.082" stroke-width="1.1" stroke-linejoin="round"/>
<polyline points="213,210.1 224.36,216.59 235.72,218.76 247.08,225.25 258.44,220.92 269.8,227.41 281.16,223.08 292.52,220.92 303.88,223.08 315.24,225.25 326.6,223.08 337.96,220.92" fill="none" stroke="#000" stroke-opacity="0.082" stroke-width="1.1" stroke-linejoin="round"/>
<polyline points="213,214.43 224.36,218.76 235.72,223.08 247.08,227.41 258.44,225.25 269.8,229.57 281.16,225.25 292.52,223.08 303.88,227.41 315.24,227.41 326.6,227.41 337.96,225.25" fill="none" stroke="#000" stroke-opacity="0.082" stroke-width="1.1" stroke-linejoin="round"/>
<polyline points="213,216.59 224.36,220.92 235.72,225.25 247.08,229.57 258.44,227.41 269.8,227.41 281.16,227.41 292.52,225.25 303.88,225.25 315.24,227.41 326.6,229.57 337.96,227.41" fill="none" stroke="#000" stroke-opacity="0.082" stroke-width="1.1" stroke-linejoin="round"/>
<polyline points="213,212.27 224.36,218.76 235.72,220.92 247.08,223.08 258.44,218.76 269.8,223.08 281.16,225.25 292.52,218.76 303.88,214.43 315.24,220.92 326.6,223.08 337.96,223.08" fill="none" stroke="#000" stroke-opacity="0.082" stroke-width="1.1" stroke-linejoin="round"/>
<polyline points="213,227.41 224.36,229.57 235.72,229.57 247.08,231.74 258.44,229.57 269.8,229.57 281.16,227.41 292.52,227.41 303.88,229.57 315.24,229.57 326.6,227.41 337.96,229.57" fill="none" stroke="#000" stroke-opacity="0.082" stroke-width="1.1" stroke-linejoin="round"/>
<polyline points="213,220.92 224.36,225.25 235.72,227.41 247.08,229.57 258.44,227.41 269.8,229.57 281.16,229.57 292.52,227.41 303.88,227.41 315.24,229.57 326.6,229.57 337.96,227.41" fill="none" stroke="#000" stroke-opacity="0.082" stroke-width="1.1" stroke-linejoin="round"/>
<polyline points="213,229.57 224.36,230.66 235.72,231.74 247.08,232.82 258.44,231.74 269.8,230.66 281.16,229.57 292.52,229.57 303.88,229.57 315.24,229.57 326.6,229.57 337.96,229.57" fill="none" stroke="#000" stroke-opacity="0.082" stroke-width="1.1" stroke-linejoin="round"/>
<polyline points="213,214.3 224.36,223.57 235.72,209.37 247.08,229.55 258.44,223.97 269.8,222.57 281.16,222.62 292.52,223.7 303.88,221.56 315.24,220.91 326.6,217.53 337.96,218.64" fill="none" stroke="#000" stroke-opacity="0.068" stroke-width="1.1" stroke-linejoin="round"/>
<polyline points="213,219.19 224.36,227.46 235.72,227.38 247.08,231.23 258.44,230.03 269.8,228.25 281.16,229.43 292.52,227.37 303.88,227.54 315.24,229.81 326.6,228.33 337.96,230.3" fill="none" stroke="#000" stroke-opacity="0.068" stroke-width="1.1" stroke-linejoin="round"/>
<polyline points="213,224.42 224.36,229.34 235.72,229.66 247.08,232.18 258.44,231.99 269.8,228.31 281.16,228.87 292.52,226.22 303.88,230.48 315.24,229.68 326.6,231.32 337.96,228.07" fill="none" stroke="#000" stroke-opacity="0.068" stroke-width="1.1" stroke-linejoin="round"/>
<polyline points="213,223.74 224.36,225.4 235.72,222.22 247.08,231.46 258.44,230.11 269.8,228.63 281.16,225.9 292.52,225.74 303.88,223.79 315.24,223.11 326.6,221.79 337.96,221.11" fill="none" stroke="#000" stroke-opacity="0.068" stroke-width="1.1" stroke-linejoin="round"/>
<polyline points="213,200.08 224.36,226.17 235.72,222.87 247.08,229.9 258.44,227.59 269.8,224.5 281.16,221.04 292.52,214.77 303.88,225.64 315.24,224.73 326.6,220.69 337.96,220.94" fill="none" stroke="#000" stroke-opacity="0.068" stroke-width="1.1" stroke-linejoin="round"/>
<polyline points="213,224.45 224.36,230.21 235.72,227.5 247.08,231.43 258.44,230.47 269.8,230.72 281.16,228.98 292.52,230.95 303.88,229.9 315.24,228.47 326.6,230.48 337.96,228" fill="none" stroke="#000" stroke-opacity="0.068" stroke-width="1.1" stroke-linejoin="round"/>
<polyline points="213,225.89 224.36,228.5 235.72,227.97 247.08,230.69 258.44,228.58 269.8,229.06 281.16,228.85 292.52,225.87 303.88,227.28 315.24,225.48 326.6,226.52 337.96,228.28" fill="none" stroke="#000" stroke-opacity="0.068" stroke-width="1.1" stroke-linejoin="round"/>
<polyline points="213,228.79 224.36,231.7 235.72,231.7 247.08,232.63 258.44,232.1 269.8,231.52 281.16,230.3 292.52,230.4 303.88,227.5 315.24,231.01 326.6,229.47 337.96,230.48" fill="none" stroke="#000" stroke-opacity="0.068" stroke-width="1.1" stroke-linejoin="round"/>
<polygon points="213,219.65 224.36,225.49 235.72,224.84 247.08,228.3 258.44,226.79 269.8,226.36 281.16,224.84 292.52,223.11 303.88,224.63 315.24,224.63 326.6,224.63 337.96,224.41 337.96,230.41 326.6,230.63 315.24,230.63 303.88,230.63 292.52,229.11 281.16,230.84 269.8,232.36 258.44,232.79 247.08,234.3 235.72,230.84 224.36,231.49 213,225.65" fill="#dbe7f3" opacity="0.6"/>
<polyline points="213,222.65 224.36,228.49 235.72,227.84 247.08,231.3 258.44,229.79 269.8,229.36 281.16,227.84 292.52,226.11 303.88,227.63 315.24,227.63 326.6,227.63 337.96,227.41" fill="none" stroke="#3b587c" stroke-width="1.15" stroke-linejoin="round"/>
<path d="M209.2 161.3V237.3H342.5" fill="none" stroke="#1a1a1a" stroke-width="1.15"/>
<path d="M206.2 233.9H209.2" stroke="#1a1a1a" stroke-width="0.9"/>
<text transform="translate(203.7 235.5) scale(1.15 1)" text-anchor="end" class="ty">0</text>
<path d="M206.2 212.27H209.2" stroke="#1a1a1a" stroke-width="0.9"/>
<text transform="translate(203.7 213.87) scale(1.15 1)" text-anchor="end" class="ty">10</text>
<path d="M206.2 190.63H209.2" stroke="#1a1a1a" stroke-width="0.9"/>
<text transform="translate(203.7 192.23) scale(1.15 1)" text-anchor="end" class="ty">20</text>
<path d="M206.2 169H209.2" stroke="#1a1a1a" stroke-width="0.9"/>
<text transform="translate(203.7 170.6) scale(1.15 1)" text-anchor="end" class="ty">30</text>
<path d="M213 237.3V239.9" stroke="#1a1a1a" stroke-width="0.9"/>
<text transform="translate(216 245.3) rotate(-45)" text-anchor="end" class="tk">J0</text>
<path d="M224.36 237.3V239.9" stroke="#1a1a1a" stroke-width="0.9"/>
<text transform="translate(227.36 245.3) rotate(-45)" text-anchor="end" class="tk">M3</text>
<path d="M235.72 237.3V239.9" stroke="#1a1a1a" stroke-width="0.9"/>
<text transform="translate(238.72 245.3) rotate(-45)" text-anchor="end" class="tk">M6</text>
<path d="M247.08 237.3V239.9" stroke="#1a1a1a" stroke-width="0.9"/>
<text transform="translate(250.08 245.3) rotate(-45)" text-anchor="end" class="tk">M12</text>
<path d="M258.44 237.3V239.9" stroke="#1a1a1a" stroke-width="0.9"/>
<text transform="translate(261.44 245.3) rotate(-45)" text-anchor="end" class="tk">M18</text>
<path d="M269.8 237.3V239.9" stroke="#1a1a1a" stroke-width="0.9"/>
<text transform="translate(272.8 245.3) rotate(-45)" text-anchor="end" class="tk">M24</text>
<path d="M281.16 237.3V239.9" stroke="#1a1a1a" stroke-width="0.9"/>
<text transform="translate(284.16 245.3) rotate(-45)" text-anchor="end" class="tk">M30</text>
<path d="M292.52 237.3V239.9" stroke="#1a1a1a" stroke-width="0.9"/>
<text transform="translate(295.52 245.3) rotate(-45)" text-anchor="end" class="tk">M36</text>
<path d="M303.88 237.3V239.9" stroke="#1a1a1a" stroke-width="0.9"/>
<text transform="translate(306.88 245.3) rotate(-45)" text-anchor="end" class="tk">M42</text>
<path d="M315.24 237.3V239.9" stroke="#1a1a1a" stroke-width="0.9"/>
<text transform="translate(318.24 245.3) rotate(-45)" text-anchor="end" class="tk">M48</text>
<path d="M326.6 237.3V239.9" stroke="#1a1a1a" stroke-width="0.9"/>
<text transform="translate(329.6 245.3) rotate(-45)" text-anchor="end" class="tk">M54</text>
<path d="M337.96 237.3V239.9" stroke="#1a1a1a" stroke-width="0.9"/>
<text transform="translate(340.96 245.3) rotate(-45)" text-anchor="end" class="tk">M60</text>
<text transform="translate(190.3 199.7) rotate(-90)" text-anchor="middle" class="yl" textLength="60" lengthAdjust="spacingAndGlyphs">IgD+CD27+ B cells (%)</text>
<text x="240.3" y="155.7" class="ti" textLength="70.9" lengthAdjust="spacingAndGlyphs">IgD+CD27+ B cells</text>
<text x="177.5" y="143.3" class="lt">E</text>
<polyline points="381.4,163.2 392.79,177.09 404.18,189.71 415.57,206.12 426.96,214.96 438.35,223.8 449.74,226.33 461.13,225.06 472.52,223.8 483.91,226.33 495.3,225.06 506.69,222.54" fill="none" stroke="#000" stroke-opacity="0.082" stroke-width="1.1" stroke-linejoin="round"/>
<polyline points="381.4,183.4 392.79,193.5 404.18,202.34 415.57,208.65 426.96,216.23 438.35,221.28 449.74,218.75 461.13,214.96 472.52,208.65 483.91,206.12 495.3,214.96 506.69,209.91" fill="none" stroke="#000" stroke-opacity="0.082" stroke-width="1.1" stroke-linejoin="round"/>
<polyline points="381.4,187.19 392.79,196.03 404.18,206.12 415.57,211.18 426.96,221.28 438.35,196.03 449.74,208.65 461.13,204.86 472.52,204.86 483.91,211.18 495.3,218.75 506.69,214.96" fill="none" stroke="#000" stroke-opacity="0.082" stroke-width="1.1" stroke-linejoin="round"/>
<polyline points="381.4,206.12 392.79,211.18 404.18,214.96 415.57,221.28 426.96,223.8 438.35,218.75 449.74,214.96 461.13,211.18 472.52,206.12 483.91,204.86 495.3,208.65 506.69,211.18" fill="none" stroke="#000" stroke-opacity="0.082" stroke-width="1.1" stroke-linejoin="round"/>
<polyline points="381.4,214.96 392.79,218.75 404.18,223.8 415.57,227.59 426.96,226.33 438.35,223.8 449.74,221.28 461.13,218.75 472.52,216.23 483.91,221.28 495.3,222.54 506.69,218.75" fill="none" stroke="#000" stroke-opacity="0.082" stroke-width="1.1" stroke-linejoin="round"/>
<polyline points="381.4,218.75 392.79,221.28 404.18,226.33 415.57,228.85 426.96,227.59 438.35,226.33 449.74,223.8 461.13,226.33 472.52,225.06 483.91,223.8 495.3,221.28 506.69,220.01" fill="none" stroke="#000" stroke-opacity="0.082" stroke-width="1.1" stroke-linejoin="round"/>
<polyline points="381.4,227.59 392.79,228.85 404.18,230.11 415.57,231.38 426.96,230.11 438.35,228.85 449.74,230.11 461.13,228.85 472.52,227.59 483.91,228.85 495.3,227.59 506.69,226.33" fill="none" stroke="#000" stroke-opacity="0.082" stroke-width="1.1" stroke-linejoin="round"/>
<polyline points="381.4,230.11 392.79,230.11 404.18,231.38 415.57,232.64 426.96,231.38 438.35,231.38 449.74,230.11 461.13,231.38 472.52,230.11 483.91,230.11 495.3,231.38 506.69,230.11" fill="none" stroke="#000" stroke-opacity="0.082" stroke-width="1.1" stroke-linejoin="round"/>
<polyline points="381.4,221.28 392.79,223.8 404.18,227.59 415.57,230.11 426.96,228.85 438.35,227.59 449.74,226.33 461.13,221.28 472.52,208.65 483.91,213.7 495.3,223.8 506.69,221.28" fill="none" stroke="#000" stroke-opacity="0.082" stroke-width="1.1" stroke-linejoin="round"/>
<polyline points="381.4,223.8 392.79,226.33 404.18,228.85 415.57,230.11 426.96,228.85 438.35,228.85 449.74,227.59 461.13,227.59 472.52,226.33 483.91,226.33 495.3,225.06 506.69,223.8" fill="none" stroke="#000" stroke-opacity="0.082" stroke-width="1.1" stroke-linejoin="round"/>
<polyline points="381.4,208.65 392.79,214.96 404.18,221.28 415.57,226.33 426.96,223.8 438.35,225.06 449.74,222.54 461.13,223.8 472.52,221.28 483.91,218.75 495.3,216.23 506.69,213.7" fill="none" stroke="#000" stroke-opacity="0.082" stroke-width="1.1" stroke-linejoin="round"/>
<polyline points="381.4,222.54 392.79,216.82 404.18,222.5 415.57,226.24 426.96,212.56 438.35,220.29 449.74,211.55 461.13,216.96 472.52,212.8 483.91,215.39 495.3,218.11 506.69,204.09" fill="none" stroke="#000" stroke-opacity="0.068" stroke-width="1.1" stroke-linejoin="round"/>
<polyline points="381.4,222.88 392.79,228.64 404.18,230.09 415.57,229.87 426.96,230.59 438.35,229.75 449.74,226.7 461.13,229.37 472.52,229.74 483.91,228.17 495.3,227.32 506.69,223.33" fill="none" stroke="#000" stroke-opacity="0.068" stroke-width="1.1" stroke-linejoin="round"/>
<polyline points="381.4,218.66 392.79,220.18 404.18,229.76 415.57,231.2 426.96,230.28 438.35,226.56 449.74,229.11 461.13,227.49 472.52,228.55 483.91,228.88 495.3,225.92 506.69,219.05" fill="none" stroke="#000" stroke-opacity="0.068" stroke-width="1.1" stroke-linejoin="round"/>
<polyline points="381.4,223.14 392.79,218.36 404.18,227.96 415.57,229.9 426.96,224.38 438.35,224.02 449.74,226.48 461.13,218.7 472.52,224.85 483.91,222.45 495.3,226.14 506.69,219.52" fill="none" stroke="#000" stroke-opacity="0.068" stroke-width="1.1" stroke-linejoin="round"/>
<polyline points="381.4,224.46 392.79,226.21 404.18,232.15 415.57,232.64 426.96,232.35 438.35,229.71 449.74,230.74 461.13,230.75 472.52,230.45 483.91,230.25 495.3,231.05 506.69,227.75" fill="none" stroke="#000" stroke-opacity="0.068" stroke-width="1.1" stroke-linejoin="round"/>
<polyline points="381.4,227.58 392.79,227.35 404.18,230.5 415.57,232.24 426.96,231.65 438.35,230.29 449.74,230.23 461.13,227.9 472.52,228.32 483.91,229.62 495.3,229.89 506.69,228.12" fill="none" stroke="#000" stroke-opacity="0.068" stroke-width="1.1" stroke-linejoin="round"/>
<polyline points="381.4,226.44 392.79,225.53 404.18,229.47 415.57,231.18 426.96,226.78 438.35,230.32 449.74,228.43 461.13,222.75 472.52,230.65 483.91,229.03 495.3,227.66 506.69,224.3" fill="none" stroke="#000" stroke-opacity="0.068" stroke-width="1.1" stroke-linejoin="round"/>
<polyline points="381.4,218.77 392.79,217.14 404.18,226.35 415.57,228.24 426.96,229.69 438.35,227.25 449.74,223.23 461.13,226.97 472.52,225.75 483.91,220.44 495.3,224.35 506.69,212.17" fill="none" stroke="#000" stroke-opacity="0.068" stroke-width="1.1" stroke-linejoin="round"/>
<polygon points="381.4,217.64 392.79,218.65 404.18,224.84 415.57,227.24 426.96,224.84 438.35,223.83 449.74,222.19 461.13,223.2 472.52,221.81 483.91,221.81 495.3,221.43 506.69,216.25 506.69,222.25 495.3,227.43 483.91,227.81 472.52,227.81 461.13,229.2 449.74,228.19 438.35,229.83 426.96,230.84 415.57,233.24 404.18,230.84 392.79,224.65 381.4,223.64" fill="#dbe7f3" opacity="0.6"/>
<polyline points="381.4,220.64 392.79,221.65 404.18,227.84 415.57,230.24 426.96,227.84 438.35,226.83 449.74,225.19 461.13,226.2 472.52,224.81 483.91,224.81 495.3,224.43 506.69,219.25" fill="none" stroke="#3b587c" stroke-width="1.15" stroke-linejoin="round"/>
<path d="M377.3 161.3V237.3H512.7" fill="none" stroke="#1a1a1a" stroke-width="1.15"/>
<path d="M374.3 233.9H377.3" stroke="#1a1a1a" stroke-width="0.9"/>
<text transform="translate(371.8 235.5) scale(1.15 1)" text-anchor="end" class="ty">0</text>
<path d="M374.3 208.65H377.3" stroke="#1a1a1a" stroke-width="0.9"/>
<text transform="translate(371.8 210.25) scale(1.15 1)" text-anchor="end" class="ty">20</text>
<path d="M374.3 183.4H377.3" stroke="#1a1a1a" stroke-width="0.9"/>
<text transform="translate(371.8 185) scale(1.15 1)" text-anchor="end" class="ty">40</text>
<path d="M381.4 237.3V239.9" stroke="#1a1a1a" stroke-width="0.9"/>
<text transform="translate(384.4 245.3) rotate(-45)" text-anchor="end" class="tk">J0</text>
<path d="M392.79 237.3V239.9" stroke="#1a1a1a" stroke-width="0.9"/>
<text transform="translate(395.79 245.3) rotate(-45)" text-anchor="end" class="tk">M3</text>
<path d="M404.18 237.3V239.9" stroke="#1a1a1a" stroke-width="0.9"/>
<text transform="translate(407.18 245.3) rotate(-45)" text-anchor="end" class="tk">M6</text>
<path d="M415.57 237.3V239.9" stroke="#1a1a1a" stroke-width="0.9"/>
<text transform="translate(418.57 245.3) rotate(-45)" text-anchor="end" class="tk">M12</text>
<path d="M426.96 237.3V239.9" stroke="#1a1a1a" stroke-width="0.9"/>
<text transform="translate(429.96 245.3) rotate(-45)" text-anchor="end" class="tk">M18</text>
<path d="M438.35 237.3V239.9" stroke="#1a1a1a" stroke-width="0.9"/>
<text transform="translate(441.35 245.3) rotate(-45)" text-anchor="end" class="tk">M24</text>
<path d="M449.74 237.3V239.9" stroke="#1a1a1a" stroke-width="0.9"/>
<text transform="translate(452.74 245.3) rotate(-45)" text-anchor="end" class="tk">M30</text>
<path d="M461.13 237.3V239.9" stroke="#1a1a1a" stroke-width="0.9"/>
<text transform="translate(464.13 245.3) rotate(-45)" text-anchor="end" class="tk">M36</text>
<path d="M472.52 237.3V239.9" stroke="#1a1a1a" stroke-width="0.9"/>
<text transform="translate(475.52 245.3) rotate(-45)" text-anchor="end" class="tk">M42</text>
<path d="M483.91 237.3V239.9" stroke="#1a1a1a" stroke-width="0.9"/>
<text transform="translate(486.91 245.3) rotate(-45)" text-anchor="end" class="tk">M48</text>
<path d="M495.3 237.3V239.9" stroke="#1a1a1a" stroke-width="0.9"/>
<text transform="translate(498.3 245.3) rotate(-45)" text-anchor="end" class="tk">M54</text>
<path d="M506.69 237.3V239.9" stroke="#1a1a1a" stroke-width="0.9"/>
<text transform="translate(509.69 245.3) rotate(-45)" text-anchor="end" class="tk">M60</text>
<text transform="translate(358.9 199.7) rotate(-90)" text-anchor="middle" class="yl" textLength="60" lengthAdjust="spacingAndGlyphs">IgD−CD27+ B cells (%)</text>
<text x="410.3" y="155.7" class="ti" textLength="70.3" lengthAdjust="spacingAndGlyphs">IgD−CD27+ B cells</text>
<text x="345.9" y="143" class="lt">F</text>
<polyline points="42.2,319.42 53.29,291.23 64.38,326.95 75.47,327.87 86.56,334.57 97.65,341.26 108.74,346.19 119.83,350.11 130.92,343.41 142.01,350.11 153.1,341.26 164.19,346.19" fill="none" stroke="#000" stroke-opacity="0.082" stroke-width="1.1" stroke-linejoin="round"/>
<polyline points="42.2,314.37 53.29,303.49 64.38,296.99 75.47,295.03 86.56,292.62 97.65,290.1" fill="none" stroke="#000" stroke-opacity="0.082" stroke-width="1.1" stroke-linejoin="round"/>
<polyline points="42.2,323.96 53.29,317.27 64.38,300.38 75.47,303.11 86.56,306.66 97.65,321.18 108.74,336.72 119.83,341.26 130.92,346.19 142.01,350.11 153.1,346.19 164.19,336.72" fill="none" stroke="#000" stroke-opacity="0.082" stroke-width="1.1" stroke-linejoin="round"/>
<polyline points="42.2,334.57 53.29,327.87 64.38,312.33 75.47,330.65 86.56,336.72 97.65,305.64 108.74,341.26 119.83,346.19 130.92,305.64 142.01,350.11 153.1,336.72 164.19,339.5" fill="none" stroke="#000" stroke-opacity="0.082" stroke-width="1.1" stroke-linejoin="round"/>
<polyline points="42.2,336.72 53.29,339.5 64.38,341.26 75.47,323.96 86.56,343.41 97.65,346.19 108.74,305.64 119.83,327.87 130.92,339.5 142.01,343.41 153.1,327.87 164.19,341.26" fill="none" stroke="#000" stroke-opacity="0.082" stroke-width="1.1" stroke-linejoin="round"/>
<polyline points="42.2,319.03 53.29,323.96 64.38,327.87 75.47,334.57 86.56,317.27 97.65,334.57 108.74,339.5 119.83,346.19 130.92,343.41 142.01,346.19 153.1,330.65 164.19,334.57" fill="none" stroke="#000" stroke-opacity="0.082" stroke-width="1.1" stroke-linejoin="round"/>
<polyline points="42.2,341.26 53.29,346.19 64.38,336.72 75.47,341.26 86.56,346.19 97.65,350.11 108.74,356.8 119.83,360.24 130.92,352.88 142.01,361.73 153.1,350.11 164.19,346.19" fill="none" stroke="#000" stroke-opacity="0.082" stroke-width="1.1" stroke-linejoin="round"/>
<polyline points="42.2,330.65 53.29,334.57 64.38,336.72 75.47,341.26 86.56,339.5 97.65,336.72 108.74,343.41 119.83,346.19 130.92,341.26 142.01,350.11 153.1,339.5 164.19,332.81" fill="none" stroke="#000" stroke-opacity="0.082" stroke-width="1.1" stroke-linejoin="round"/>
<polyline points="42.2,346.19 53.29,350.11 64.38,352.88 75.47,350.11 86.56,356.8 97.65,358.95 108.74,361.73 119.83,361.73 130.92,358.95 142.01,361.73 153.1,356.8 164.19,352.88" fill="none" stroke="#000" stroke-opacity="0.082" stroke-width="1.1" stroke-linejoin="round"/>
<polyline points="42.2,325.72 53.29,321.18 64.38,323.96 75.47,327.87 86.56,330.65 97.65,323.96 108.74,341.26 119.83,343.41 130.92,346.19 142.01,341.26 153.1,336.72 164.19,339.5" fill="none" stroke="#000" stroke-opacity="0.082" stroke-width="1.1" stroke-linejoin="round"/>
<polyline points="42.2,332.81 53.29,336.72 64.38,346.19 75.47,350.11 86.56,327.87 97.65,339.5 108.74,346.19 119.83,356.8 130.92,350.11 142.01,356.8 153.1,346.19 164.19,341.26" fill="none" stroke="#000" stroke-opacity="0.082" stroke-width="1.1" stroke-linejoin="round"/>
<polyline points="42.2,339.5 53.29,330.65 64.38,327.87 75.47,336.72 86.56,334.57 97.65,343.41 108.74,336.72 119.83,341.26 130.92,346.19 142.01,346.19 153.1,343.41 164.19,350.11" fill="none" stroke="#000" stroke-opacity="0.082" stroke-width="1.1" stroke-linejoin="round"/>
<polyline points="42.2,323.85 53.29,328.14 64.38,334.51 75.47,343.47 86.56,334.41 97.65,334.32 108.74,350.52 119.83,351.61 130.92,337.11 142.01,358.78 153.1,336.72 164.19,325.1" fill="none" stroke="#000" stroke-opacity="0.068" stroke-width="1.1" stroke-linejoin="round"/>
<polyline points="42.2,334.82 53.29,342 64.38,335.02 75.47,343.52 86.56,339.08 97.65,351 108.74,357.59 119.83,361.14 130.92,361.73 142.01,355.38 153.1,345.27 164.19,356.07" fill="none" stroke="#000" stroke-opacity="0.068" stroke-width="1.1" stroke-linejoin="round"/>
<polyline points="42.2,326.4 53.29,328.49 64.38,331.79 75.47,344 86.56,335.47 97.65,328.32 108.74,350.79 119.83,356.98 130.92,349.34 142.01,360.77 153.1,338.5 164.19,326.1" fill="none" stroke="#000" stroke-opacity="0.068" stroke-width="1.1" stroke-linejoin="round"/>
<polyline points="42.2,326.65 53.29,320.58 64.38,339.35 75.47,341.66 86.56,333.62 97.65,336.22 108.74,355.77 119.83,360.26 130.92,342.21 142.01,354.7 153.1,350.45 164.19,339.51" fill="none" stroke="#000" stroke-opacity="0.068" stroke-width="1.1" stroke-linejoin="round"/>
<polyline points="42.2,332.91 53.29,341.71 64.38,344.35 75.47,347.31 86.56,338.08 97.65,338.85 108.74,359.53 119.83,356.09 130.92,355.79 142.01,361.73 153.1,346.04 164.19,337.07" fill="none" stroke="#000" stroke-opacity="0.068" stroke-width="1.1" stroke-linejoin="round"/>
<polyline points="42.2,334.77 53.29,338.66 64.38,351.3 75.47,343.93 86.56,346.87 97.65,343.52 108.74,361.73 119.83,361.73 130.92,349.94 142.01,360.9 153.1,352.33 164.19,339.46" fill="none" stroke="#000" stroke-opacity="0.068" stroke-width="1.1" stroke-linejoin="round"/>
<polyline points="42.2,337.01 53.29,336.18 64.38,350.85 75.47,347.1 86.56,342.23 97.65,339.91 108.74,356.26 119.83,357.12 130.92,353.12 142.01,359.81 153.1,338.67 164.19,347.74" fill="none" stroke="#000" stroke-opacity="0.068" stroke-width="1.1" stroke-linejoin="round"/>
<polyline points="42.2,316.84 53.29,318.47 64.38,320.38 75.47,316.86 86.56,328.88 97.65,336.61 108.74,331.42 119.83,333.91 130.92,325.32 142.01,325.93 153.1,326.73 164.19,321.9" fill="none" stroke="#000" stroke-opacity="0.068" stroke-width="1.1" stroke-linejoin="round"/>
<polyline points="42.2,322.07 53.29,320.03 64.38,339.66 75.47,336.07 86.56,352.78 97.65,330.83 108.74,348.19 119.83,344.27 130.92,327.55 142.01,352.3 153.1,340.49 164.19,337.37" fill="none" stroke="#000" stroke-opacity="0.068" stroke-width="1.1" stroke-linejoin="round"/>
<polyline points="42.2,341.51 53.29,339.61 64.38,345.92 75.47,347.16 86.56,347.47 97.65,343.89 108.74,356.82 119.83,361.73 130.92,349.83 142.01,361.73 153.1,359.35 164.19,339.69" fill="none" stroke="#000" stroke-opacity="0.068" stroke-width="1.1" stroke-linejoin="round"/>
<polyline points="42.2,333.34 53.29,327 64.38,334.07 75.47,346.54 86.56,327.07 97.65,337.19 108.74,344.45 119.83,352.06 130.92,344.48 142.01,361.73 153.1,336.97 164.19,337.88" fill="none" stroke="#000" stroke-opacity="0.068" stroke-width="1.1" stroke-linejoin="round"/>
<polyline points="42.2,331.57 53.29,338.6 64.38,337.96 75.47,345.43 86.56,342.42 97.65,357.33 108.74,357.88 119.83,355.1 130.92,341.68 142.01,361.73 153.1,349.11 164.19,334.69" fill="none" stroke="#000" stroke-opacity="0.068" stroke-width="1.1" stroke-linejoin="round"/>
<polygon points="42.2,328.39 53.29,333.84 64.38,336.66 75.47,338.07 86.56,336.99 97.65,339.72 108.74,350.21 119.83,353.8 130.92,344.21 142.01,356.45 153.1,343.19 164.19,338.65 164.19,344.65 153.1,349.19 142.01,362.45 130.92,350.21 119.83,359.8 108.74,356.21 97.65,345.72 86.56,342.99 75.47,344.07 64.38,342.66 53.29,339.84 42.2,334.39" fill="#f5dcdc" opacity="0.6"/>
<polyline points="42.2,331.39 53.29,336.84 64.38,339.66 75.47,341.07 86.56,339.99 97.65,342.72 108.74,353.21 119.83,356.8 130.92,347.21 142.01,359.45 153.1,346.19 164.19,341.65" fill="none" stroke="#953232" stroke-width="1.15" stroke-linejoin="round"/>
<path d="M38.5 288.6V363.9H170.7" fill="none" stroke="#1a1a1a" stroke-width="1.15"/>
<path d="M35.5 356.8H38.5" stroke="#1a1a1a" stroke-width="0.9"/>
<text transform="translate(33 358.4) scale(1.15 1)" text-anchor="end" class="ty">1</text>
<path d="M35.5 334.57H38.5" stroke="#1a1a1a" stroke-width="0.9"/>
<text transform="translate(33 336.17) scale(1.15 1)" text-anchor="end" class="ty">10</text>
<path d="M35.5 312.33H38.5" stroke="#1a1a1a" stroke-width="0.9"/>
<text transform="translate(33 313.93) scale(1.15 1)" text-anchor="end" class="ty">100</text>
<path d="M35.5 290.1H38.5" stroke="#1a1a1a" stroke-width="0.9"/>
<text transform="translate(33 291.7) scale(1.15 1)" text-anchor="end" class="ty">1000</text>
<path d="M42.2 363.9V366.5" stroke="#1a1a1a" stroke-width="0.9"/>
<text transform="translate(45.2 371.9) rotate(-45)" text-anchor="end" class="tk">J0</text>
<path d="M53.29 363.9V366.5" stroke="#1a1a1a" stroke-width="0.9"/>
<text transform="translate(56.29 371.9) rotate(-45)" text-anchor="end" class="tk">M3</text>
<path d="M64.38 363.9V366.5" stroke="#1a1a1a" stroke-width="0.9"/>
<text transform="translate(67.38 371.9) rotate(-45)" text-anchor="end" class="tk">M6</text>
<path d="M75.47 363.9V366.5" stroke="#1a1a1a" stroke-width="0.9"/>
<text transform="translate(78.47 371.9) rotate(-45)" text-anchor="end" class="tk">M12</text>
<path d="M86.56 363.9V366.5" stroke="#1a1a1a" stroke-width="0.9"/>
<text transform="translate(89.56 371.9) rotate(-45)" text-anchor="end" class="tk">M18</text>
<path d="M97.65 363.9V366.5" stroke="#1a1a1a" stroke-width="0.9"/>
<text transform="translate(100.65 371.9) rotate(-45)" text-anchor="end" class="tk">M24</text>
<path d="M108.74 363.9V366.5" stroke="#1a1a1a" stroke-width="0.9"/>
<text transform="translate(111.74 371.9) rotate(-45)" text-anchor="end" class="tk">M30</text>
<path d="M119.83 363.9V366.5" stroke="#1a1a1a" stroke-width="0.9"/>
<text transform="translate(122.83 371.9) rotate(-45)" text-anchor="end" class="tk">M36</text>
<path d="M130.92 363.9V366.5" stroke="#1a1a1a" stroke-width="0.9"/>
<text transform="translate(133.92 371.9) rotate(-45)" text-anchor="end" class="tk">M42</text>
<path d="M142.01 363.9V366.5" stroke="#1a1a1a" stroke-width="0.9"/>
<text transform="translate(145.01 371.9) rotate(-45)" text-anchor="end" class="tk">M48</text>
<path d="M153.1 363.9V366.5" stroke="#1a1a1a" stroke-width="0.9"/>
<text transform="translate(156.1 371.9) rotate(-45)" text-anchor="end" class="tk">M54</text>
<path d="M164.19 363.9V366.5" stroke="#1a1a1a" stroke-width="0.9"/>
<text transform="translate(167.19 371.9) rotate(-45)" text-anchor="end" class="tk">M60</text>
<text transform="translate(14 324.9) rotate(-90)" text-anchor="middle" class="yl" textLength="36.7" lengthAdjust="spacingAndGlyphs">IL-6 (pg/mL)</text>
<text x="97.9" y="283.6" class="ti" textLength="13.8" lengthAdjust="spacingAndGlyphs">IL-6</text>
<text x="6.6" y="270.8" class="lt">G</text>
<polyline points="212.6,291.6 223.71,317.8 234.82,331.21 245.93,336.56 257.04,338.89 268.15,340.8 279.26,343.14 290.37,340.8 301.48,341.9 312.59,343.14 323.7,344.53 334.81,346.15" fill="none" stroke="#000" stroke-opacity="0.082" stroke-width="1.1" stroke-linejoin="round"/>
<path d="M212.6 336.56 C214.45 336.95 220.01 338.18 223.71 338.89 C227.41 339.6 231.12 340.3 234.82 340.8 C238.52 341.3 242.23 347.24 245.93 341.9 C249.63 336.57 253.34 314.95 257.04 308.79 C260.74 302.62 264.45 305.62 268.15 304.89 C271.85 304.16 275.56 303.96 279.26 304.4 C282.96 304.84 286.67 306.37 290.37 307.54 C294.07 308.7 297.78 310.63 301.48 311.4 C305.18 312.16 308.89 311.96 312.59 312.11 C316.29 312.27 320 310.91 323.7 312.32 C327.4 313.73 332.96 319.21 334.81 320.58" fill="none" stroke="#000" stroke-opacity="0.082" stroke-width="1.1"/>
<polyline points="212.6,326.29 223.71,329.3 234.82,333.55 245.93,316.7 257.04,331.21 268.15,336.56 279.26,338.89 290.37,336.56 301.48,329.3 312.59,333.55 323.7,336.56 334.81,338.89" fill="none" stroke="#000" stroke-opacity="0.082" stroke-width="1.1" stroke-linejoin="round"/>
<polyline points="212.6,319.04 223.71,323.95 234.82,331.21 245.93,334.65 257.04,336.56 268.15,338.89 279.26,340.8 290.37,337.28 301.48,331.21 312.59,338.89 323.7,340.8 334.81,343.14" fill="none" stroke="#000" stroke-opacity="0.082" stroke-width="1.1" stroke-linejoin="round"/>
<polyline points="212.6,350.39 223.71,350.39 234.82,350.39 245.93,350.39 257.04,350.39 268.15,350.39 279.26,350.39 290.37,350.39 301.48,350.39 312.59,350.39 323.7,350.39 334.81,350.39" fill="none" stroke="#000" stroke-opacity="0.082" stroke-width="1.1" stroke-linejoin="round"/>
<polyline points="212.6,340.8 223.71,343.14 234.82,346.15 245.93,357.65 257.04,348.05 268.15,346.15 279.26,348.05 290.37,350.39 301.48,346.15 312.59,353.4 323.7,357.65" fill="none" stroke="#000" stroke-opacity="0.082" stroke-width="1.1" stroke-linejoin="round"/>
<polyline points="212.6,331.21 223.71,327.69 234.82,336.56 245.93,340.8 257.04,338.89 268.15,337.28 279.26,343.14 290.37,340.8 301.48,338.89 312.59,340.8 323.7,343.14 334.81,346.15" fill="none" stroke="#000" stroke-opacity="0.082" stroke-width="1.1" stroke-linejoin="round"/>
<polyline points="212.6,343.14 223.71,346.15 234.82,348.05 245.93,346.15 257.04,343.14 268.15,348.05 279.26,350.39 290.37,348.05 301.48,343.14 312.59,346.15 323.7,348.05 334.81,348.05" fill="none" stroke="#000" stroke-opacity="0.082" stroke-width="1.1" stroke-linejoin="round"/>
<polyline points="212.6,333.55 223.71,334.65 234.82,338.89 245.93,343.14 257.04,346.15 268.15,340.8 279.26,346.15 290.37,343.14 301.48,346.15 312.59,348.05 323.7,346.15 334.81,348.05" fill="none" stroke="#000" stroke-opacity="0.082" stroke-width="1.1" stroke-linejoin="round"/>
<polyline points="212.6,323.95 223.71,326.29 234.82,329.3 245.93,331.21 257.04,333.55 268.15,334.65 279.26,336.56 290.37,338.89 301.48,338.89 312.59,340.8 323.7,340.8 334.81,341.9" fill="none" stroke="#000" stroke-opacity="0.082" stroke-width="1.1" stroke-linejoin="round"/>
<polyline points="212.6,346.15 223.71,348.05 234.82,343.14 245.93,344.53 257.04,340.8 268.15,343.14 279.26,346.15 290.37,344.53 301.48,340.8 312.59,343.14 323.7,344.53 334.81,340.8" fill="none" stroke="#000" stroke-opacity="0.082" stroke-width="1.1" stroke-linejoin="round"/>
<polyline points="212.6,329.82 223.71,329.64 234.82,342.36 245.93,339.96 257.04,343.64 268.15,342.96 279.26,349.24 290.37,346.43 301.48,339.59 312.59,338.1 323.7,350.29 334.81,350.39" fill="none" stroke="#000" stroke-opacity="0.068" stroke-width="1.1" stroke-linejoin="round"/>
<polyline points="212.6,332.06 223.71,329.66 234.82,336.1 245.93,341.16 257.04,334.79 268.15,345.09 279.26,341.86 290.37,348.2 301.48,341.97 312.59,344.58 323.7,345.01 334.81,342.95" fill="none" stroke="#000" stroke-opacity="0.068" stroke-width="1.1" stroke-linejoin="round"/>
<polyline points="212.6,331.83 223.71,331.66 234.82,334.58 245.93,342.3 257.04,337.57 268.15,337.05 279.26,345.84 290.37,349.42 301.48,332.47 312.59,336.63 323.7,350.39 334.81,348.42" fill="none" stroke="#000" stroke-opacity="0.068" stroke-width="1.1" stroke-linejoin="round"/>
<polyline points="212.6,325.08 223.71,329.45 234.82,339.61 245.93,344.43 257.04,336.78 268.15,336.05 279.26,349.06 290.37,346.73 301.48,339.93 312.59,350.06 323.7,344.92 334.81,348.12" fill="none" stroke="#000" stroke-opacity="0.068" stroke-width="1.1" stroke-linejoin="round"/>
<polyline points="212.6,331.01 223.71,334.95 234.82,339.89 245.93,340.57 257.04,339.41 268.15,339.62 279.26,342.14 290.37,338.45 301.48,333.42 312.59,345.66 323.7,345.32 334.81,350.39" fill="none" stroke="#000" stroke-opacity="0.068" stroke-width="1.1" stroke-linejoin="round"/>
<polyline points="212.6,323.51 223.71,324.26 234.82,328.95 245.93,337.79 257.04,327.7 268.15,332.18 279.26,344 290.37,334.14 301.48,327.7 312.59,342.05 323.7,333.25 334.81,338" fill="none" stroke="#000" stroke-opacity="0.068" stroke-width="1.1" stroke-linejoin="round"/>
<polyline points="212.6,326.7 223.71,326.82 234.82,339.13 245.93,337.07 257.04,338.35 268.15,336.87 279.26,347.75 290.37,343.06 301.48,333.19 312.59,341.03 323.7,344.24 334.81,350.39" fill="none" stroke="#000" stroke-opacity="0.068" stroke-width="1.1" stroke-linejoin="round"/>
<polyline points="212.6,334.22 223.71,334.78 234.82,343.37 245.93,344.97 257.04,343.63 268.15,341.2 279.26,350.39 290.37,350.39 301.48,342.9 312.59,349.05 323.7,350.39 334.81,350.39" fill="none" stroke="#000" stroke-opacity="0.068" stroke-width="1.1" stroke-linejoin="round"/>
<polyline points="212.6,329.86 223.71,334.13 234.82,346.58 245.93,342.53 257.04,340.03 268.15,347.03 279.26,345.76 290.37,347.52 301.48,344.59 312.59,343.58 323.7,342.65 334.81,350.39" fill="none" stroke="#000" stroke-opacity="0.068" stroke-width="1.1" stroke-linejoin="round"/>
<polyline points="212.6,331.71 223.71,323.31 234.82,340.32 245.93,336.08 257.04,339.41 268.15,336.75 279.26,336.83 290.37,350.39 301.48,341.32 312.59,341.02 323.7,344.19 334.81,348.86" fill="none" stroke="#000" stroke-opacity="0.068" stroke-width="1.1" stroke-linejoin="round"/>
<polygon points="212.6,327.8 223.71,331.08 234.82,337.8 245.93,339.75 257.04,336.34 268.15,339.02 279.26,344.25 290.37,342.15 301.48,339.02 312.59,342.15 323.7,343.15 334.81,345.7 334.81,351.7 323.7,349.15 312.59,348.15 301.48,345.02 290.37,348.15 279.26,350.25 268.15,345.02 257.04,342.34 245.93,345.75 234.82,343.8 223.71,337.08 212.6,333.8" fill="#f5dcdc" opacity="0.6"/>
<polyline points="212.6,330.8 223.71,334.08 234.82,340.8 245.93,342.75 257.04,339.34 268.15,342.02 279.26,347.25 290.37,345.15 301.48,342.02 312.59,345.15 323.7,346.15 334.81,348.7" fill="none" stroke="#953232" stroke-width="1.15" stroke-linejoin="round"/>
<path d="M209 288V363.9H339.6" fill="none" stroke="#1a1a1a" stroke-width="1.15"/>
<path d="M206 340.8H209" stroke="#1a1a1a" stroke-width="0.9"/>
<text transform="translate(203.5 342.4) scale(1.15 1)" text-anchor="end" class="ty">10</text>
<path d="M206 316.7H209" stroke="#1a1a1a" stroke-width="0.9"/>
<text transform="translate(203.5 318.3) scale(1.15 1)" text-anchor="end" class="ty">100</text>
<path d="M206 292.6H209" stroke="#1a1a1a" stroke-width="0.9"/>
<text transform="translate(203.5 294.2) scale(1.15 1)" text-anchor="end" class="ty">1000</text>
<path d="M212.6 363.9V366.5" stroke="#1a1a1a" stroke-width="0.9"/>
<text transform="translate(215.6 371.9) rotate(-45)" text-anchor="end" class="tk">J0</text>
<path d="M223.71 363.9V366.5" stroke="#1a1a1a" stroke-width="0.9"/>
<text transform="translate(226.71 371.9) rotate(-45)" text-anchor="end" class="tk">M3</text>
<path d="M234.82 363.9V366.5" stroke="#1a1a1a" stroke-width="0.9"/>
<text transform="translate(237.82 371.9) rotate(-45)" text-anchor="end" class="tk">M6</text>
<path d="M245.93 363.9V366.5" stroke="#1a1a1a" stroke-width="0.9"/>
<text transform="translate(248.93 371.9) rotate(-45)" text-anchor="end" class="tk">M12</text>
<path d="M257.04 363.9V366.5" stroke="#1a1a1a" stroke-width="0.9"/>
<text transform="translate(260.04 371.9) rotate(-45)" text-anchor="end" class="tk">M18</text>
<path d="M268.15 363.9V366.5" stroke="#1a1a1a" stroke-width="0.9"/>
<text transform="translate(271.15 371.9) rotate(-45)" text-anchor="end" class="tk">M24</text>
<path d="M279.26 363.9V366.5" stroke="#1a1a1a" stroke-width="0.9"/>
<text transform="translate(282.26 371.9) rotate(-45)" text-anchor="end" class="tk">M30</text>
<path d="M290.37 363.9V366.5" stroke="#1a1a1a" stroke-width="0.9"/>
<text transform="translate(293.37 371.9) rotate(-45)" text-anchor="end" class="tk">M36</text>
<path d="M301.48 363.9V366.5" stroke="#1a1a1a" stroke-width="0.9"/>
<text transform="translate(304.48 371.9) rotate(-45)" text-anchor="end" class="tk">M42</text>
<path d="M312.59 363.9V366.5" stroke="#1a1a1a" stroke-width="0.9"/>
<text transform="translate(315.59 371.9) rotate(-45)" text-anchor="end" class="tk">M48</text>
<path d="M323.7 363.9V366.5" stroke="#1a1a1a" stroke-width="0.9"/>
<text transform="translate(326.7 371.9) rotate(-45)" text-anchor="end" class="tk">M54</text>
<path d="M334.81 363.9V366.5" stroke="#1a1a1a" stroke-width="0.9"/>
<text transform="translate(337.81 371.9) rotate(-45)" text-anchor="end" class="tk">M60</text>
<text transform="translate(183.9 326) rotate(-90)" text-anchor="middle" class="yl" textLength="36" lengthAdjust="spacingAndGlyphs">IL-10 (pg/mL)</text>
<text x="264.7" y="283.6" class="ti" textLength="18.4" lengthAdjust="spacingAndGlyphs">IL-10</text>
<text x="177.5" y="270.5" class="lt">H</text>
<polyline points="381.4,349.56 392.55,297.69 403.7,323.17 414.85,346.83 426,353.2 437.15,355.93 448.3,356.84 459.45,356.84 470.6,357.75 481.75,358.66 492.9,358.66 504.05,357.75" fill="none" stroke="#000" stroke-opacity="0.082" stroke-width="1.1" stroke-linejoin="round"/>
<polyline points="381.4,353.2 392.55,302.24 403.7,311.34 414.85,335 426,348.65 437.15,355.02 448.3,355.93 459.45,355.93 470.6,356.84 481.75,357.75 492.9,357.75 504.05,355.93" fill="none" stroke="#000" stroke-opacity="0.082" stroke-width="1.1" stroke-linejoin="round"/>
<polyline points="381.4,354.11 392.55,328.63 403.7,293.14 414.85,331.36 426,348.65 437.15,354.11 448.3,355.93 459.45,355.02 470.6,355.93 481.75,356.84 492.9,356.84 504.05,355.02" fill="none" stroke="#000" stroke-opacity="0.082" stroke-width="1.1" stroke-linejoin="round"/>
<polyline points="381.4,348.65 392.55,330.45 403.7,335.91 414.85,291.32 426,344.1 437.15,353.2 448.3,354.11 459.45,353.2 470.6,355.02 481.75,355.93 492.9,355.93 504.05,354.11" fill="none" stroke="#000" stroke-opacity="0.082" stroke-width="1.1" stroke-linejoin="round"/>
<polyline points="381.4,355.93 392.55,339.55 403.7,335 414.85,344.1 426,344.1 437.15,314.98 448.3,349.56 459.45,353.2 470.6,354.11 481.75,355.02 492.9,355.93 504.05,353.2" fill="none" stroke="#000" stroke-opacity="0.082" stroke-width="1.1" stroke-linejoin="round"/>
<path d="M381.4 357.75 C383.26 356.99 388.83 354.72 392.55 353.2 C396.27 351.68 399.98 350.93 403.7 348.65 C407.42 346.38 411.13 344.86 414.85 339.55 C418.57 334.24 422.28 322.72 426 316.8 C429.72 310.88 433.43 305.12 437.15 304.06 C440.87 303 444.58 306.18 448.3 310.43 C452.02 314.68 455.73 324.08 459.45 329.54 C463.17 335 466.88 339.85 470.6 343.19 C474.32 346.53 478.03 347.89 481.75 349.56 C485.47 351.23 489.18 352.75 492.9 353.2 C496.62 353.65 502.19 352.44 504.05 352.29" fill="none" stroke="#000" stroke-opacity="0.082" stroke-width="1.1"/>
<polyline points="381.4,351.38 392.55,325.9 403.7,330.45 414.85,339.55 426,344.1 437.15,348.65 448.3,340.46 459.45,340.46 470.6,340.46 481.75,351.38 492.9,353.2 504.05,337.73" fill="none" stroke="#000" stroke-opacity="0.082" stroke-width="1.1" stroke-linejoin="round"/>
<polyline points="381.4,354.11 392.55,335 403.7,339.55 414.85,345.92 426,355.02 437.15,357.75 448.3,358.66 459.45,357.75 470.6,358.66 481.75,359.57 492.9,359.57 504.05,358.66" fill="none" stroke="#000" stroke-opacity="0.082" stroke-width="1.1" stroke-linejoin="round"/>
<polyline points="381.4,351.38 392.55,344.1 403.7,325.9 414.85,330.45 426,348.65 437.15,355.93 448.3,356.84 459.45,355.93 470.6,356.84 481.75,357.75 492.9,358.2 504.05,356.84" fill="none" stroke="#000" stroke-opacity="0.082" stroke-width="1.1" stroke-linejoin="round"/>
<polyline points="381.4,356.84 392.55,348.65 403.7,351.38 414.85,353.2 426,356.84 437.15,358.66 448.3,359.12 459.45,358.66 470.6,359.12 481.75,359.57 492.9,359.12 504.05,358.66" fill="none" stroke="#000" stroke-opacity="0.082" stroke-width="1.1" stroke-linejoin="round"/>
<polyline points="381.4,344.1 392.55,321.35 403.7,330.45 414.85,339.55 426,351.38 437.15,354.11 448.3,355.02 459.45,354.11 470.6,353.2 481.75,354.11 492.9,355.93 504.05,351.38" fill="none" stroke="#000" stroke-opacity="0.082" stroke-width="1.1" stroke-linejoin="round"/>
<polyline points="381.4,348.21 392.55,319.04 403.7,307.7 414.85,338.63 426,342.68 437.15,353.61 448.3,354.2 459.45,348.42 470.6,353.01 481.75,357.11 492.9,357.42 504.05,347.77" fill="none" stroke="#000" stroke-opacity="0.068" stroke-width="1.1" stroke-linejoin="round"/>
<polyline points="381.4,354.02 392.55,312.14 403.7,321.63 414.85,335.59 426,355.33 437.15,355.85 448.3,355.68 459.45,353.53 470.6,354.7 481.75,359.35 492.9,357.32 504.05,353.41" fill="none" stroke="#000" stroke-opacity="0.068" stroke-width="1.1" stroke-linejoin="round"/>
<polyline points="381.4,349.63 392.55,307.7 403.7,307.7 414.85,318.23 426,346.54 437.15,348.74 448.3,354.87 459.45,349.73 470.6,353.28 481.75,354.48 492.9,355.7 504.05,353.09" fill="none" stroke="#000" stroke-opacity="0.068" stroke-width="1.1" stroke-linejoin="round"/>
<polyline points="381.4,350.99 392.55,321.05 403.7,320.43 414.85,331.06 426,352.46 437.15,354.98 448.3,355.57 459.45,353.11 470.6,355.79 481.75,358.85 492.9,355.55 504.05,352.9" fill="none" stroke="#000" stroke-opacity="0.068" stroke-width="1.1" stroke-linejoin="round"/>
<polyline points="381.4,354.61 392.55,325.18 403.7,334.1 414.85,346.36 426,354.43 437.15,357.23 448.3,358.22 459.45,357.29 470.6,356.27 481.75,359.21 492.9,357.72 504.05,356.81" fill="none" stroke="#000" stroke-opacity="0.068" stroke-width="1.1" stroke-linejoin="round"/>
<polyline points="381.4,350.66 392.55,322.38 403.7,333.42 414.85,340.8 426,352.06 437.15,357.9 448.3,357.86 459.45,355.19 470.6,357.03 481.75,357.86 492.9,357.24 504.05,353.77" fill="none" stroke="#000" stroke-opacity="0.068" stroke-width="1.1" stroke-linejoin="round"/>
<polyline points="381.4,350.87 392.55,320.75 403.7,324.06 414.85,339.13 426,351.58 437.15,355.41 448.3,358.22 459.45,354.91 470.6,355.69 481.75,358.17 492.9,357.3 504.05,352.99" fill="none" stroke="#000" stroke-opacity="0.068" stroke-width="1.1" stroke-linejoin="round"/>
<polyline points="381.4,350.53 392.55,342.3 403.7,334.12 414.85,349.31 426,351.68 437.15,353 448.3,359.63 459.45,356.1 470.6,356.66 481.75,358.68 492.9,358.01 504.05,358.2" fill="none" stroke="#000" stroke-opacity="0.068" stroke-width="1.1" stroke-linejoin="round"/>
<polygon points="381.4,351.2 392.55,324.2 403.7,328.7 414.85,339.8 426,350.2 437.15,353.6 448.3,354.7 459.45,353 470.6,354 481.75,355.3 492.9,355.3 504.05,352.6 504.05,358.6 492.9,361.3 481.75,361.3 470.6,360 459.45,359 448.3,360.7 437.15,359.6 426,356.2 414.85,345.8 403.7,334.7 392.55,330.2 381.4,357.2" fill="#f5dcdc" opacity="0.6"/>
<polyline points="381.4,354.2 392.55,327.2 403.7,331.7 414.85,342.8 426,353.2 437.15,356.6 448.3,357.7 459.45,356 470.6,357 481.75,358.3 492.9,358.3 504.05,355.6" fill="none" stroke="#953232" stroke-width="1.15" stroke-linejoin="round"/>
<path d="M377.3 288V363.9H510.9" fill="none" stroke="#1a1a1a" stroke-width="1.15"/>
<path d="M374.3 362.3H377.3" stroke="#1a1a1a" stroke-width="0.9"/>
<text transform="translate(371.8 363.9) scale(1.15 1)" text-anchor="end" class="ty">0</text>
<path d="M374.3 344.1H377.3" stroke="#1a1a1a" stroke-width="0.9"/>
<text transform="translate(371.8 345.7) scale(1.15 1)" text-anchor="end" class="ty">2000</text>
<path d="M374.3 325.9H377.3" stroke="#1a1a1a" stroke-width="0.9"/>
<text transform="translate(371.8 327.5) scale(1.15 1)" text-anchor="end" class="ty">4000</text>
<path d="M374.3 307.7H377.3" stroke="#1a1a1a" stroke-width="0.9"/>
<text transform="translate(371.8 309.3) scale(1.15 1)" text-anchor="end" class="ty">6000</text>
<path d="M374.3 289.5H377.3" stroke="#1a1a1a" stroke-width="0.9"/>
<text transform="translate(371.8 291.1) scale(1.15 1)" text-anchor="end" class="ty">8000</text>
<path d="M381.4 363.9V366.5" stroke="#1a1a1a" stroke-width="0.9"/>
<text transform="translate(384.4 371.9) rotate(-45)" text-anchor="end" class="tk">J0</text>
<path d="M392.55 363.9V366.5" stroke="#1a1a1a" stroke-width="0.9"/>
<text transform="translate(395.55 371.9) rotate(-45)" text-anchor="end" class="tk">M3</text>
<path d="M403.7 363.9V366.5" stroke="#1a1a1a" stroke-width="0.9"/>
<text transform="translate(406.7 371.9) rotate(-45)" text-anchor="end" class="tk">M6</text>
<path d="M414.85 363.9V366.5" stroke="#1a1a1a" stroke-width="0.9"/>
<text transform="translate(417.85 371.9) rotate(-45)" text-anchor="end" class="tk">M12</text>
<path d="M426 363.9V366.5" stroke="#1a1a1a" stroke-width="0.9"/>
<text transform="translate(429 371.9) rotate(-45)" text-anchor="end" class="tk">M18</text>
<path d="M437.15 363.9V366.5" stroke="#1a1a1a" stroke-width="0.9"/>
<text transform="translate(440.15 371.9) rotate(-45)" text-anchor="end" class="tk">M24</text>
<path d="M448.3 363.9V366.5" stroke="#1a1a1a" stroke-width="0.9"/>
<text transform="translate(451.3 371.9) rotate(-45)" text-anchor="end" class="tk">M30</text>
<path d="M459.45 363.9V366.5" stroke="#1a1a1a" stroke-width="0.9"/>
<text transform="translate(462.45 371.9) rotate(-45)" text-anchor="end" class="tk">M36</text>
<path d="M470.6 363.9V366.5" stroke="#1a1a1a" stroke-width="0.9"/>
<text transform="translate(473.6 371.9) rotate(-45)" text-anchor="end" class="tk">M42</text>
<path d="M481.75 363.9V366.5" stroke="#1a1a1a" stroke-width="0.9"/>
<text transform="translate(484.75 371.9) rotate(-45)" text-anchor="end" class="tk">M48</text>
<path d="M492.9 363.9V366.5" stroke="#1a1a1a" stroke-width="0.9"/>
<text transform="translate(495.9 371.9) rotate(-45)" text-anchor="end" class="tk">M54</text>
<path d="M504.05 363.9V366.5" stroke="#1a1a1a" stroke-width="0.9"/>
<text transform="translate(507.05 371.9) rotate(-45)" text-anchor="end" class="tk">M60</text>
<text transform="translate(351.9 326.1) rotate(-90)" text-anchor="middle" class="yl" textLength="38.1" lengthAdjust="spacingAndGlyphs">BAFF (pg/mL)</text>
<text x="433.8" y="283.6" class="ti" textLength="20.8" lengthAdjust="spacingAndGlyphs">BAFF</text>
<text x="346.1" y="270.3" class="lt">I</text>
<rect x="0" y="0" width="520" height="1" fill="#6a6a6a"/><rect x="0" y="0" width="1" height="388" fill="#6a6a6a"/><rect x="519" y="0" width="1" height="388" fill="#555"/><rect x="0" y="387" width="520" height="1" fill="#555"/>
</svg>
</body></html>
